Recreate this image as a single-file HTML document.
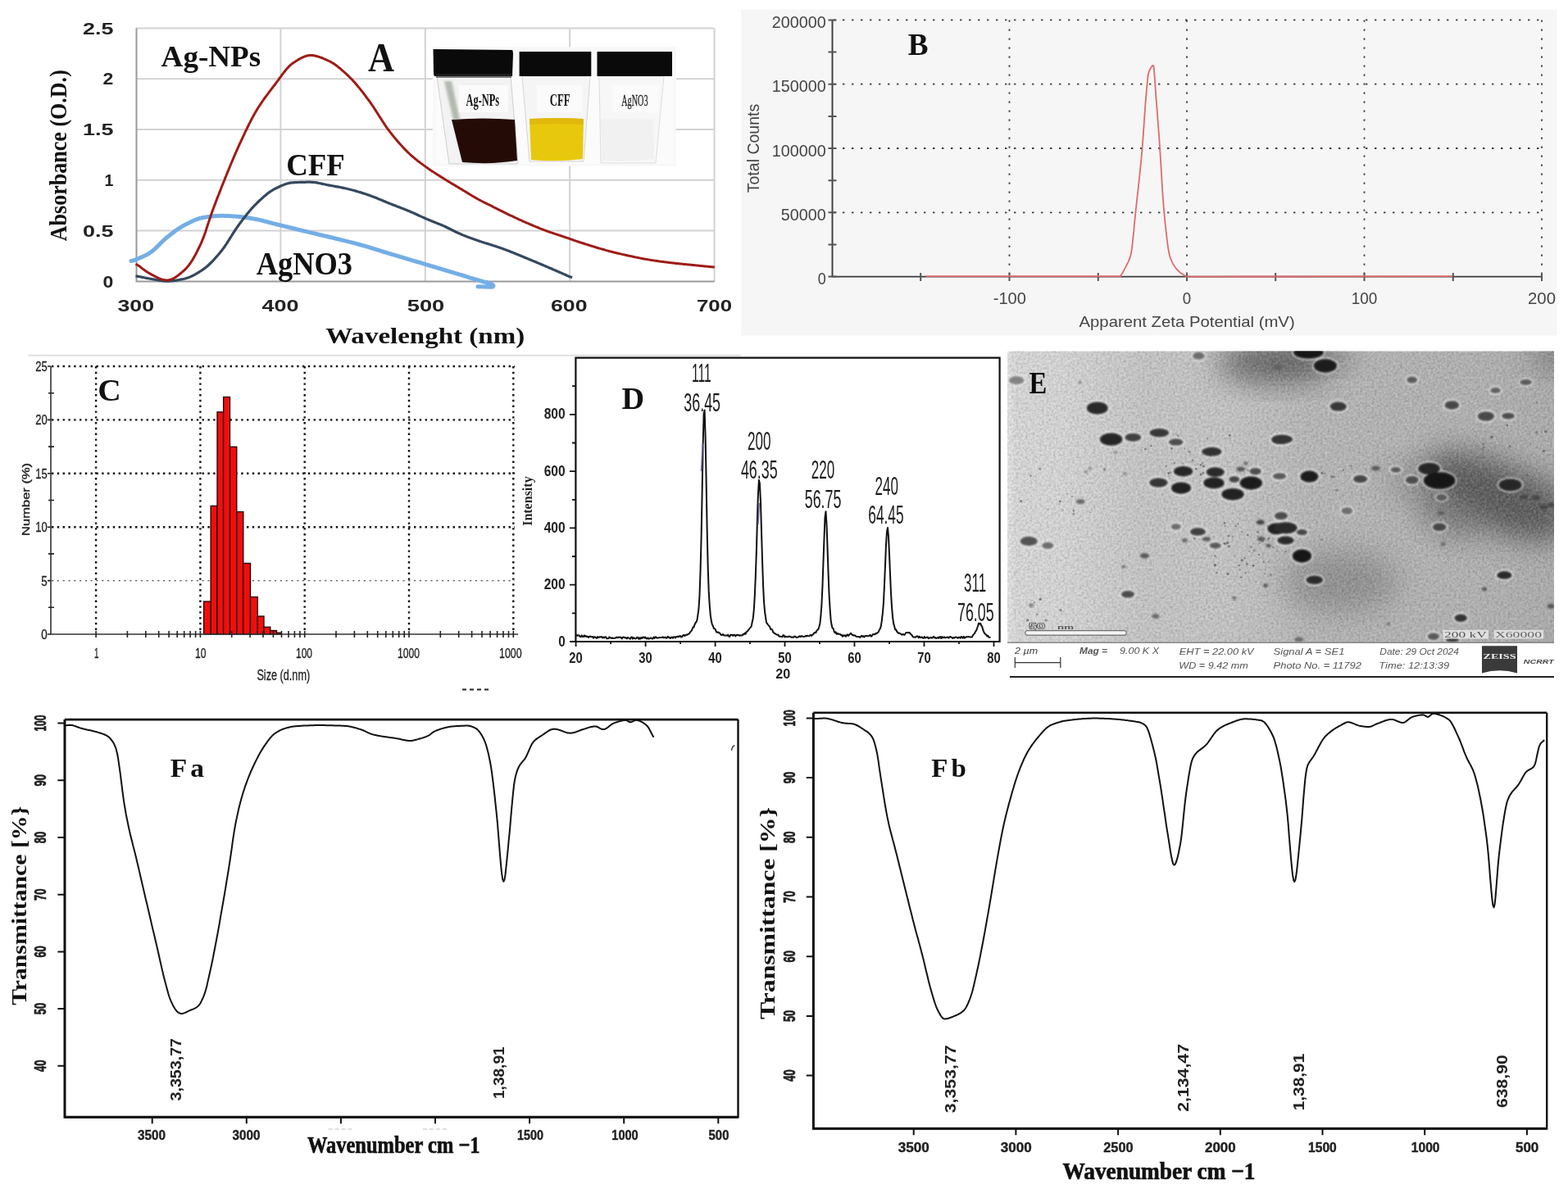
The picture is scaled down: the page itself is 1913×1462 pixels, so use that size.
<!DOCTYPE html>
<html><head><meta charset="utf-8"><title>Figure</title>
<style>html,body{margin:0;padding:0;background:#fff;}body{width:1913px;height:1462px;overflow:hidden;}svg{display:block;}</style>
</head><body>
<svg width="1913" height="1462" viewBox="0 0 1913 1462">
<rect width="1913" height="1462" fill="#fff"/>
<path d="M166,281.6H871.6 M166,219.8H871.6 M166,158.0H871.6 M166,96.2H871.6 M166,34.4H871.6 M342.4,34.4V343.4 M518.8,34.4V343.4 M695.2,34.4V343.4 M871.6,34.4V343.4" stroke="#d2d2d2" stroke-width="2" fill="none"/>
<path d="M166.5,34.4V343.4H871.6" stroke="#9a9a9a" stroke-width="2" fill="none"/>
<text x="101.0" y="41.6" font-size="20.0" font-family="'Liberation Sans', Arial, sans-serif" font-weight="bold" text-anchor="start" fill="#222" textLength="37.4" lengthAdjust="spacingAndGlyphs">2.5</text>
<text x="125.6" y="103.4" font-size="20.0" font-family="'Liberation Sans', Arial, sans-serif" font-weight="bold" text-anchor="start" fill="#222" textLength="12.8" lengthAdjust="spacingAndGlyphs">2</text>
<text x="101.0" y="165.2" font-size="20.0" font-family="'Liberation Sans', Arial, sans-serif" font-weight="bold" text-anchor="start" fill="#222" textLength="37.4" lengthAdjust="spacingAndGlyphs">1.5</text>
<text x="127.5" y="227.0" font-size="20.0" font-family="'Liberation Sans', Arial, sans-serif" font-weight="bold" text-anchor="start" fill="#222" textLength="10.9" lengthAdjust="spacingAndGlyphs">1</text>
<text x="101.0" y="288.8" font-size="20.0" font-family="'Liberation Sans', Arial, sans-serif" font-weight="bold" text-anchor="start" fill="#222" textLength="37.4" lengthAdjust="spacingAndGlyphs">0.5</text>
<text x="125.6" y="350.6" font-size="20.0" font-family="'Liberation Sans', Arial, sans-serif" font-weight="bold" text-anchor="start" fill="#222" textLength="12.8" lengthAdjust="spacingAndGlyphs">0</text>
<text x="143.5" y="380.0" font-size="20.0" font-family="'Liberation Sans', Arial, sans-serif" font-weight="bold" text-anchor="start" fill="#222" textLength="44.5" lengthAdjust="spacingAndGlyphs">300</text>
<text x="319.5" y="380.0" font-size="20.0" font-family="'Liberation Sans', Arial, sans-serif" font-weight="bold" text-anchor="start" fill="#222" textLength="45.0" lengthAdjust="spacingAndGlyphs">400</text>
<text x="496.8" y="380.0" font-size="20.0" font-family="'Liberation Sans', Arial, sans-serif" font-weight="bold" text-anchor="start" fill="#222" textLength="45.5" lengthAdjust="spacingAndGlyphs">500</text>
<text x="672.0" y="380.0" font-size="20.0" font-family="'Liberation Sans', Arial, sans-serif" font-weight="bold" text-anchor="start" fill="#222" textLength="44.5" lengthAdjust="spacingAndGlyphs">600</text>
<text x="850.0" y="380.0" font-size="20.0" font-family="'Liberation Sans', Arial, sans-serif" font-weight="bold" text-anchor="start" fill="#222" textLength="43.0" lengthAdjust="spacingAndGlyphs">700</text>
<text x="397.2" y="419.0" font-size="27.0" font-family="'Liberation Serif', 'Times New Roman', serif" font-weight="bold" text-anchor="start" fill="#111" textLength="243.0" lengthAdjust="spacingAndGlyphs">Wavelenght (nm)</text>
<text x="0.0" y="0.0" font-size="29.0" font-family="'Liberation Serif', 'Times New Roman', serif" font-weight="bold" text-anchor="middle" fill="#111" textLength="209.0" lengthAdjust="spacingAndGlyphs" transform="translate(81.0,189.7) rotate(-90)">Absorbance (O.D.)</text>
<defs><filter id="blurV" x="-50%" y="-50%" width="200%" height="200%"><feGaussianBlur stdDeviation="1.5"/></filter></defs>
<rect x="527.8" y="57.3" width="297" height="145.4" fill="#f8f8f8"/>
<rect x="532" y="92" width="290" height="108" fill="#fbfbfb"/>
<path d="M533,93 L548,200 L632,200 L623,93 Z" fill="#f3f3f3" stroke="#cfcfcf" stroke-width="1"/>
<path d="M637,93 L646,197 L712,197 L720,93 Z" fill="#f5f5f5" stroke="#d5d5d5" stroke-width="1"/>
<path d="M731,93 L733,199 L800,199 L810,93 Z" fill="#f7f7f7" stroke="#dedede" stroke-width="1"/>
<path d="M551,146 Q590,143 628,146 L631,196 Q600,201 564,198 Z" fill="#240b06"/>
<path d="M542,99 L551,99 L561,146 L553,146 Z" fill="#7d8a78" opacity="0.55" filter="url(#blurV)"/>
<path d="M646,145 Q680,143 712,145 L711,194 Q680,198 648,195 Z" fill="#e8c80c"/>
<path d="M646,145 Q680,143 712,145 L712,152 Q680,150 646,152 Z" fill="#d9a810" opacity="0.5"/>
<path d="M733,146 Q765,144 797,146 L798,194 Q765,198 735,196 Z" fill="#f1f1f1"/>
<rect x="560" y="104" width="60" height="33" fill="#fbfbfb"/>
<rect x="655" y="104" width="55" height="33" fill="#fbfbfb"/>
<rect x="748" y="104" width="55" height="33" fill="#fbfbfb"/>
<text x="568.6" y="129.0" font-size="20.0" font-family="'Liberation Serif', 'Times New Roman', serif" font-weight="bold" text-anchor="start" fill="#111" textLength="40.5" lengthAdjust="spacingAndGlyphs">Ag-NPs</text>
<text x="670.7" y="128.6" font-size="20.0" font-family="'Liberation Serif', 'Times New Roman', serif" font-weight="bold" text-anchor="start" fill="#111" textLength="25.0" lengthAdjust="spacingAndGlyphs">CFF</text>
<text x="758.2" y="128.5" font-size="19.0" font-family="'Liberation Serif', 'Times New Roman', serif" font-weight="normal" text-anchor="start" fill="#222" textLength="32.4" lengthAdjust="spacingAndGlyphs" stroke="#222" stroke-width="0.3">AgNO3</text>
<path d="M528.5,60 L625,61 Q626,62 626,66 L625,93 L530,93 Q529,92 529,88 Z" fill="#0a0a0a"/>
<path d="M633.6,63 L721.3,63 L721.3,93 L633.6,93 Z" fill="#0a0a0a"/>
<path d="M728.5,63 L820,63 L820,93 L728.5,93 Z" fill="#0a0a0a"/>
<rect x="532" y="90" width="92" height="5" fill="#2a2a2a" opacity="0.6"/>
<path d="M160.0,318.5 L161.0,318.3 L162.1,318.0 L163.1,317.7 L164.2,317.3 L165.2,316.9 L166.3,316.5 L167.3,316.1 L168.3,315.7 L169.4,315.2 L170.4,314.8 L171.5,314.4 L172.5,313.9 L173.6,313.5 L174.6,313.0 L175.6,312.5 L176.7,312.0 L177.7,311.5 L178.8,311.0 L179.8,310.4 L180.9,309.8 L181.9,309.2 L182.9,308.5 L184.0,307.8 L185.0,307.0 L186.1,306.2 L187.1,305.3 L188.2,304.4 L189.2,303.5 L190.2,302.5 L191.3,301.5 L192.3,300.5 L193.4,299.4 L194.4,298.4 L195.5,297.3 L196.5,296.3 L197.5,295.3 L198.6,294.3 L199.6,293.3 L200.7,292.3 L201.7,291.4 L202.8,290.5 L203.8,289.7 L204.8,288.8 L205.9,288.0 L206.9,287.1 L208.0,286.3 L209.0,285.5 L210.1,284.7 L211.1,283.9 L212.1,283.1 L213.2,282.4 L214.2,281.6 L215.3,280.8 L216.3,280.1 L217.4,279.4 L218.4,278.7 L219.4,278.0 L220.5,277.3 L221.5,276.7 L222.6,276.1 L223.6,275.5 L224.7,274.9 L225.7,274.3 L226.7,273.8 L227.8,273.2 L228.8,272.7 L229.9,272.2 L230.9,271.7 L232.0,271.2 L233.0,270.6 L234.0,270.2 L235.1,269.7 L236.1,269.2 L237.2,268.8 L238.2,268.3 L239.3,267.9 L240.3,267.5 L241.3,267.2 L242.4,266.8 L243.4,266.5 L244.5,266.2 L245.5,266.0 L246.6,265.7 L247.6,265.5 L248.6,265.4 L249.7,265.2 L250.7,265.0 L251.8,264.9 L252.8,264.7 L253.9,264.6 L254.9,264.4 L255.9,264.3 L257.0,264.2 L258.0,264.0 L259.1,263.9 L260.1,263.8 L261.2,263.7 L262.2,263.6 L263.2,263.6 L264.3,263.5 L265.3,263.4 L266.4,263.4 L267.4,263.4 L268.5,263.3 L269.5,263.3 L270.5,263.3 L271.6,263.3 L272.6,263.3 L273.7,263.4 L274.7,263.4 L275.8,263.4 L276.8,263.5 L277.8,263.5 L278.9,263.6 L279.9,263.6 L281.0,263.7 L282.0,263.7 L283.1,263.8 L284.1,263.9 L285.1,263.9 L286.2,264.0 L287.2,264.1 L288.3,264.2 L289.3,264.2 L290.4,264.3 L291.4,264.4 L292.4,264.5 L293.5,264.6 L294.5,264.7 L295.6,264.8 L296.6,264.9 L297.7,265.1 L298.7,265.2 L299.7,265.4 L300.8,265.5 L301.8,265.7 L302.9,265.8 L303.9,266.0 L305.0,266.2 L306.0,266.4 L307.0,266.5 L308.1,266.7 L309.1,266.9 L310.2,267.1 L311.2,267.3 L312.3,267.5 L313.3,267.7 L314.3,267.9 L315.4,268.1 L316.4,268.4 L317.5,268.6 L318.5,268.8 L319.6,269.1 L320.6,269.3 L321.6,269.6 L322.7,269.9 L323.7,270.2 L324.8,270.4 L325.8,270.7 L326.9,271.0 L327.9,271.3 L328.9,271.6 L330.0,271.8 L331.0,272.1 L332.1,272.4 L333.1,272.7 L334.2,272.9 L335.2,273.2 L336.2,273.5 L337.3,273.7 L338.3,274.0 L339.4,274.2 L340.4,274.5 L341.4,274.7 L342.5,275.0 L343.5,275.2 L344.5,275.5 L345.6,275.7 L346.6,276.0 L347.7,276.2 L348.7,276.5 L349.7,276.7 L350.8,277.0 L351.8,277.2 L352.8,277.5 L353.9,277.7 L354.9,278.0 L356.0,278.2 L357.0,278.5 L358.0,278.7 L359.0,279.0 L360.0,279.2 L361.0,279.5 L362.0,279.7 L363.0,280.0 L364.0,280.2 L365.0,280.5 L366.0,280.7 L367.0,280.9 L368.0,281.2 L369.0,281.4 L370.0,281.7 L371.0,281.9 L372.0,282.2 L373.0,282.4 L374.0,282.6 L375.0,282.9 L376.0,283.1 L377.0,283.4 L378.0,283.6 L379.0,283.9 L380.0,284.1 L381.0,284.3 L382.0,284.6 L383.0,284.8 L384.0,285.1 L385.0,285.3 L386.0,285.5 L387.0,285.8 L388.0,286.0 L389.0,286.2 L390.0,286.5 L391.0,286.7 L392.0,286.9 L393.0,287.2 L394.0,287.4 L395.0,287.6 L396.0,287.9 L397.0,288.1 L398.0,288.3 L399.0,288.6 L400.0,288.8 L401.0,289.0 L402.0,289.3 L403.0,289.5 L404.0,289.8 L405.0,290.0 L406.0,290.2 L407.0,290.5 L408.0,290.7 L409.0,291.0 L410.0,291.2 L411.0,291.4 L412.0,291.7 L413.0,291.9 L414.0,292.2 L415.0,292.4 L416.0,292.7 L417.0,292.9 L418.0,293.2 L419.0,293.4 L420.0,293.6 L421.0,293.9 L422.0,294.1 L423.0,294.4 L424.0,294.6 L425.0,294.9 L426.0,295.1 L427.0,295.4 L428.0,295.6 L429.0,295.9 L430.0,296.1 L431.0,296.4 L432.0,296.7 L433.0,296.9 L434.0,297.2 L435.0,297.5 L436.0,297.7 L437.0,298.0 L438.0,298.3 L439.0,298.5 L440.0,298.8 L441.0,299.1 L442.0,299.4 L443.0,299.7 L444.0,299.9 L445.0,300.2 L446.0,300.5 L447.0,300.8 L448.0,301.1 L449.0,301.4 L450.0,301.7 L451.0,302.0 L452.0,302.3 L453.0,302.6 L454.0,302.9 L455.0,303.3 L456.0,303.6 L457.0,303.9 L458.0,304.2 L459.0,304.5 L460.0,304.8 L461.0,305.1 L462.0,305.4 L463.0,305.7 L464.0,306.1 L465.0,306.4 L466.0,306.7 L467.0,307.0 L468.0,307.3 L469.0,307.6 L470.0,307.9 L471.0,308.2 L472.0,308.5 L473.0,308.8 L474.0,309.1 L475.0,309.4 L476.0,309.7 L477.0,310.0 L478.0,310.3 L479.0,310.6 L480.0,310.9 L481.0,311.2 L482.0,311.5 L483.0,311.8 L484.0,312.1 L485.0,312.4 L486.0,312.7 L487.0,313.0 L488.0,313.3 L489.0,313.6 L490.0,313.9 L491.0,314.2 L492.0,314.5 L493.0,314.8 L494.0,315.1 L495.0,315.4 L496.0,315.7 L497.0,316.0 L498.0,316.3 L499.0,316.6 L500.0,316.9 L501.0,317.2 L502.0,317.5 L503.0,317.8 L504.0,318.1 L505.0,318.4 L506.0,318.7 L507.0,319.0 L508.0,319.3 L509.0,319.5 L510.0,319.8 L511.0,320.1 L512.0,320.4 L513.0,320.7 L514.0,321.0 L515.0,321.3 L516.0,321.6 L517.0,321.9 L518.0,322.2 L519.0,322.5 L520.0,322.8 L521.0,323.1 L522.0,323.4 L523.0,323.7 L524.0,324.0 L525.0,324.3 L526.0,324.6 L527.0,324.9 L528.0,325.2 L529.0,325.5 L530.0,325.8 L531.0,326.1 L532.0,326.4 L533.0,326.7 L534.0,327.0 L535.0,327.3 L536.0,327.6 L537.0,327.9 L538.0,328.2 L539.0,328.5 L540.0,328.8 L541.0,329.1 L542.0,329.4 L543.0,329.7 L544.0,330.0 L545.0,330.3 L546.0,330.6 L547.0,330.9 L548.0,331.2 L549.0,331.5 L550.0,331.8 L551.0,332.1 L552.0,332.4 L553.0,332.7 L554.0,333.0 L555.0,333.3 L556.0,333.6 L557.0,333.9 L558.0,334.2 L559.0,334.5 L560.0,334.8 L561.0,335.1 L562.0,335.4 L563.0,335.7 L564.0,336.0 L565.0,336.3 L566.0,336.6 L567.0,336.9 L568.0,337.2 L569.0,337.6 L570.0,337.9 L571.0,338.2 L572.0,338.5 L573.0,338.8 L574.0,339.1 L575.0,339.4 L576.0,339.7 L577.0,340.0 L578.0,340.3 L579.0,340.6 L580.0,340.9 L581.0,341.2 L582.0,341.5 L583.0,341.8 L584.0,342.1 L585.0,342.4 L586.0,342.7 L587.0,343.0 L588.0,343.3 L589.0,343.5 L590.0,343.8 L591.0,344.1 L592.0,344.3 L593.0,344.5 L594.0,344.6" stroke="#74aee6" stroke-width="5" fill="none" stroke-linecap="round"/>
<path d="M593,344.8 Q605,347.5 601,350.2 L583,349.8" stroke="#74aee6" stroke-width="5" fill="none" stroke-linecap="round" stroke-linejoin="round"/>
<path d="M165.5,337.0 L166.5,337.1 L167.6,337.2 L168.6,337.4 L169.6,337.5 L170.6,337.7 L171.7,337.9 L172.7,338.1 L173.7,338.4 L174.7,338.6 L175.8,338.8 L176.8,339.0 L177.8,339.2 L178.8,339.4 L179.9,339.6 L180.9,339.8 L181.9,340.0 L182.9,340.1 L184.0,340.3 L185.0,340.5 L186.0,340.7 L187.1,340.9 L188.1,341.1 L189.2,341.3 L190.2,341.5 L191.3,341.7 L192.3,341.8 L193.4,342.0 L194.4,342.2 L195.4,342.4 L196.5,342.5 L197.5,342.7 L198.6,342.8 L199.6,342.9 L200.7,343.0 L201.7,343.1 L202.8,343.1 L203.8,343.1 L204.8,343.1 L205.9,343.1 L206.9,343.1 L208.0,343.0 L209.0,342.9 L210.1,342.8 L211.1,342.7 L212.1,342.6 L213.2,342.4 L214.2,342.3 L215.3,342.1 L216.3,341.9 L217.4,341.7 L218.4,341.5 L219.4,341.3 L220.5,341.1 L221.5,340.9 L222.6,340.7 L223.6,340.5 L224.7,340.2 L225.7,340.0 L226.7,339.7 L227.8,339.4 L228.8,339.1 L229.9,338.7 L230.9,338.3 L232.0,337.9 L233.0,337.4 L234.0,337.0 L235.1,336.5 L236.1,335.9 L237.2,335.4 L238.2,334.8 L239.3,334.2 L240.3,333.6 L241.3,333.0 L242.4,332.4 L243.4,331.7 L244.5,331.0 L245.5,330.4 L246.6,329.7 L247.6,328.9 L248.6,328.2 L249.7,327.4 L250.7,326.6 L251.8,325.8 L252.8,324.9 L253.9,324.0 L254.9,323.0 L255.9,322.0 L257.0,321.0 L258.0,320.0 L259.1,318.9 L260.1,317.8 L261.2,316.7 L262.2,315.5 L263.2,314.4 L264.3,313.2 L265.3,312.0 L266.4,310.8 L267.4,309.6 L268.5,308.3 L269.5,307.0 L270.5,305.7 L271.6,304.3 L272.6,302.9 L273.7,301.5 L274.7,299.9 L275.8,298.4 L276.8,296.8 L277.8,295.2 L278.9,293.5 L279.9,291.9 L281.0,290.2 L282.0,288.5 L283.1,286.9 L284.1,285.2 L285.1,283.6 L286.2,282.0 L287.2,280.4 L288.3,278.8 L289.3,277.3 L290.4,275.8 L291.4,274.4 L292.4,272.9 L293.5,271.5 L294.5,270.2 L295.6,268.8 L296.6,267.4 L297.7,266.1 L298.7,264.7 L299.7,263.4 L300.8,262.1 L301.8,260.8 L302.9,259.5 L303.9,258.3 L305.0,257.0 L306.0,255.8 L307.0,254.6 L308.1,253.5 L309.1,252.3 L310.2,251.2 L311.2,250.1 L312.3,249.1 L313.3,248.0 L314.3,247.0 L315.4,246.0 L316.4,245.0 L317.5,244.1 L318.5,243.1 L319.6,242.1 L320.6,241.2 L321.6,240.3 L322.7,239.3 L323.7,238.5 L324.8,237.6 L325.8,236.7 L326.9,235.9 L327.9,235.1 L328.9,234.4 L330.0,233.7 L331.0,233.0 L332.1,232.3 L333.1,231.7 L334.2,231.1 L335.2,230.5 L336.2,230.0 L337.3,229.5 L338.3,229.0 L339.4,228.5 L340.4,228.0 L341.4,227.5 L342.5,227.0 L343.5,226.6 L344.5,226.1 L345.6,225.7 L346.6,225.3 L347.7,224.9 L348.7,224.6 L349.7,224.2 L350.8,223.9 L351.8,223.7 L352.8,223.4 L353.9,223.2 L354.9,223.1 L356.0,222.9 L357.0,222.9 L358.0,222.8 L359.1,222.7 L360.1,222.7 L361.2,222.6 L362.2,222.6 L363.3,222.5 L364.3,222.5 L365.3,222.4 L366.4,222.4 L367.4,222.4 L368.5,222.4 L369.5,222.3 L370.6,222.3 L371.6,222.3 L372.6,222.3 L373.7,222.2 L374.7,222.2 L375.8,222.2 L376.8,222.2 L377.9,222.2 L378.9,222.2 L379.9,222.3 L381.0,222.3 L382.0,222.4 L383.0,222.5 L384.0,222.6 L385.1,222.7 L386.1,222.9 L387.1,223.1 L388.2,223.3 L389.2,223.5 L390.2,223.7 L391.2,223.9 L392.3,224.1 L393.3,224.4 L394.3,224.6 L395.4,224.8 L396.4,225.0 L397.4,225.3 L398.4,225.5 L399.5,225.7 L400.5,225.9 L401.5,226.1 L402.6,226.3 L403.6,226.5 L404.6,226.6 L405.6,226.8 L406.6,227.0 L407.7,227.2 L408.7,227.4 L409.7,227.6 L410.8,227.8 L411.8,227.9 L412.8,228.1 L413.8,228.3 L414.9,228.5 L415.9,228.7 L416.9,228.9 L417.9,229.1 L419.0,229.4 L420.0,229.6 L421.0,229.8 L422.0,230.0 L423.1,230.2 L424.1,230.5 L425.1,230.7 L426.1,231.0 L427.1,231.2 L428.1,231.5 L429.1,231.7 L430.1,232.0 L431.1,232.2 L432.1,232.5 L433.1,232.8 L434.1,233.1 L435.1,233.4 L436.1,233.7 L437.1,234.0 L438.2,234.3 L439.2,234.6 L440.2,234.9 L441.2,235.2 L442.2,235.5 L443.2,235.9 L444.2,236.2 L445.2,236.5 L446.2,236.8 L447.2,237.2 L448.2,237.5 L449.2,237.9 L450.2,238.2 L451.2,238.6 L452.2,238.9 L453.2,239.3 L454.2,239.7 L455.2,240.0 L456.2,240.4 L457.2,240.8 L458.2,241.2 L459.2,241.6 L460.2,242.0 L461.2,242.5 L462.2,242.9 L463.3,243.3 L464.3,243.7 L465.3,244.1 L466.3,244.6 L467.3,245.0 L468.3,245.4 L469.3,245.8 L470.3,246.2 L471.3,246.7 L472.3,247.1 L473.3,247.5 L474.3,247.9 L475.3,248.3 L476.3,248.7 L477.4,249.1 L478.4,249.5 L479.4,249.9 L480.4,250.3 L481.5,250.7 L482.5,251.1 L483.5,251.5 L484.6,251.9 L485.6,252.3 L486.6,252.7 L487.6,253.1 L488.7,253.5 L489.7,253.9 L490.7,254.3 L491.8,254.7 L492.8,255.1 L493.8,255.5 L494.9,255.9 L495.9,256.3 L496.9,256.7 L497.9,257.2 L499.0,257.6 L500.0,258.0 L501.0,258.5 L502.1,258.9 L503.1,259.4 L504.2,259.8 L505.2,260.3 L506.3,260.8 L507.3,261.2 L508.4,261.7 L509.4,262.2 L510.4,262.7 L511.5,263.2 L512.5,263.6 L513.6,264.1 L514.6,264.6 L515.7,265.1 L516.7,265.5 L517.8,266.0 L518.8,266.5 L519.9,266.9 L520.9,267.4 L521.9,267.8 L523.0,268.3 L524.0,268.7 L525.0,269.1 L526.0,269.5 L527.1,269.9 L528.1,270.3 L529.1,270.8 L530.2,271.2 L531.2,271.6 L532.2,272.0 L533.3,272.4 L534.3,272.8 L535.3,273.2 L536.4,273.6 L537.4,274.1 L538.4,274.5 L539.4,274.9 L540.5,275.4 L541.5,275.8 L542.5,276.3 L543.5,276.7 L544.5,277.2 L545.5,277.7 L546.5,278.2 L547.6,278.7 L548.6,279.2 L549.6,279.7 L550.6,280.2 L551.6,280.7 L552.6,281.2 L553.6,281.7 L554.6,282.2 L555.6,282.7 L556.6,283.2 L557.7,283.7 L558.7,284.2 L559.7,284.6 L560.7,285.1 L561.7,285.5 L562.7,286.0 L563.7,286.4 L564.8,286.9 L565.8,287.3 L566.9,287.7 L567.9,288.1 L569.0,288.5 L570.0,288.9 L571.1,289.3 L572.1,289.7 L573.2,290.1 L574.2,290.5 L575.2,290.8 L576.3,291.2 L577.3,291.6 L578.4,292.0 L579.4,292.3 L580.5,292.7 L581.5,293.1 L582.6,293.4 L583.6,293.8 L584.6,294.1 L585.6,294.5 L586.7,294.8 L587.7,295.2 L588.7,295.5 L589.7,295.8 L590.7,296.2 L591.7,296.5 L592.8,296.8 L593.8,297.1 L594.8,297.4 L595.8,297.7 L596.8,298.1 L597.9,298.4 L598.9,298.7 L599.9,299.0 L600.9,299.3 L601.9,299.7 L603.0,300.0 L604.0,300.3 L605.0,300.6 L606.0,301.0 L607.0,301.3 L608.0,301.7 L609.1,302.0 L610.1,302.4 L611.1,302.7 L612.1,303.1 L613.1,303.4 L614.2,303.8 L615.2,304.2 L616.2,304.6 L617.2,304.9 L618.2,305.3 L619.2,305.7 L620.3,306.1 L621.3,306.5 L622.3,306.9 L623.3,307.3 L624.3,307.7 L625.3,308.1 L626.4,308.5 L627.4,308.9 L628.4,309.3 L629.4,309.8 L630.4,310.2 L631.4,310.6 L632.5,311.0 L633.5,311.4 L634.5,311.8 L635.5,312.3 L636.5,312.7 L637.5,313.1 L638.6,313.5 L639.6,314.0 L640.6,314.4 L641.6,314.8 L642.6,315.2 L643.6,315.6 L644.7,316.1 L645.7,316.5 L646.7,316.9 L647.7,317.3 L648.7,317.7 L649.7,318.2 L650.8,318.6 L651.8,319.0 L652.8,319.4 L653.8,319.8 L654.8,320.3 L655.8,320.7 L656.8,321.1 L657.9,321.6 L658.9,322.0 L659.9,322.4 L660.9,322.8 L661.9,323.3 L662.9,323.7 L663.9,324.1 L665.0,324.6 L666.0,325.0 L667.0,325.4 L668.0,325.9 L669.0,326.3 L670.0,326.7 L671.0,327.2 L672.1,327.6 L673.1,328.0 L674.1,328.5 L675.1,328.9 L676.1,329.4 L677.1,329.8 L678.1,330.2 L679.2,330.7 L680.2,331.1 L681.2,331.6 L682.2,332.0 L683.2,332.4 L684.2,332.9 L685.2,333.3 L686.2,333.8 L687.2,334.2 L688.2,334.6 L689.2,335.1 L690.2,335.5 L691.2,336.0 L692.2,336.4 L693.2,336.9 L694.2,337.3 L695.2,337.7 L696.2,338.0 L697.2,338.3 L698.2,338.5" stroke="#34495e" stroke-width="3.2" fill="none"/>
<path d="M165.5,322.4 L166.5,322.8 L167.6,323.3 L168.6,323.9 L169.6,324.6 L170.6,325.3 L171.7,326.1 L172.7,327.0 L173.7,327.8 L174.7,328.6 L175.8,329.3 L176.8,330.1 L177.8,330.8 L178.8,331.5 L179.8,332.1 L180.9,332.8 L181.9,333.4 L182.9,333.9 L184.0,334.5 L185.0,335.1 L186.1,335.7 L187.1,336.2 L188.2,336.8 L189.2,337.3 L190.2,337.9 L191.3,338.4 L192.3,338.9 L193.4,339.4 L194.4,339.8 L195.5,340.2 L196.5,340.6 L197.5,340.9 L198.6,341.2 L199.6,341.5 L200.7,341.7 L201.7,341.8 L202.8,341.9 L203.8,341.9 L204.8,341.9 L205.9,341.8 L206.9,341.5 L208.0,341.3 L209.0,340.9 L210.1,340.5 L211.1,340.0 L212.1,339.5 L213.2,338.9 L214.2,338.2 L215.3,337.5 L216.3,336.8 L217.4,336.0 L218.4,335.2 L219.4,334.4 L220.5,333.5 L221.5,332.6 L222.6,331.7 L223.6,330.8 L224.7,329.9 L225.7,328.9 L226.7,327.9 L227.8,326.8 L228.8,325.6 L229.9,324.3 L230.9,323.0 L232.0,321.5 L233.0,320.0 L234.0,318.4 L235.1,316.7 L236.1,314.9 L237.2,313.1 L238.2,311.2 L239.3,309.3 L240.3,307.2 L241.3,305.2 L242.4,303.0 L243.4,300.9 L244.5,298.6 L245.5,296.3 L246.6,293.9 L247.6,291.3 L248.7,288.5 L249.8,285.6 L250.9,282.4 L251.9,279.1 L253.0,275.7 L254.1,272.4 L255.2,269.1 L256.3,265.9 L257.3,262.9 L258.3,260.0 L259.3,257.1 L260.4,254.3 L261.4,251.6 L262.4,248.9 L263.4,246.2 L264.4,243.6 L265.4,240.9 L266.5,238.3 L267.5,235.7 L268.5,233.1 L269.5,230.5 L270.5,227.8 L271.6,225.2 L272.6,222.6 L273.7,220.0 L274.7,217.4 L275.8,214.8 L276.8,212.2 L277.8,209.6 L278.9,207.1 L279.9,204.5 L281.0,202.0 L282.0,199.5 L283.1,197.0 L284.1,194.6 L285.1,192.1 L286.2,189.7 L287.2,187.3 L288.3,184.9 L289.3,182.6 L290.4,180.2 L291.4,177.9 L292.4,175.6 L293.5,173.4 L294.5,171.1 L295.6,168.9 L296.6,166.6 L297.7,164.4 L298.7,162.2 L299.7,160.0 L300.8,157.8 L301.8,155.7 L302.9,153.5 L303.9,151.4 L305.0,149.4 L306.0,147.3 L307.0,145.3 L308.1,143.4 L309.1,141.4 L310.2,139.6 L311.2,137.7 L312.3,135.9 L313.3,134.2 L314.3,132.5 L315.4,130.8 L316.4,129.2 L317.5,127.6 L318.5,126.0 L319.6,124.5 L320.6,123.0 L321.6,121.5 L322.7,120.0 L323.7,118.6 L324.8,117.2 L325.8,115.8 L326.9,114.4 L327.9,113.0 L328.9,111.6 L330.0,110.3 L331.0,108.9 L332.1,107.5 L333.1,106.2 L334.2,104.8 L335.2,103.5 L336.2,102.1 L337.3,100.7 L338.3,99.3 L339.4,97.9 L340.4,96.4 L341.4,95.0 L342.5,93.6 L343.5,92.1 L344.5,90.7 L345.6,89.4 L346.6,88.0 L347.7,86.7 L348.7,85.4 L349.7,84.2 L350.8,83.0 L351.8,81.9 L352.8,80.8 L353.9,79.8 L354.9,78.9 L356.0,78.1 L357.0,77.3 L358.0,76.6 L359.1,75.9 L360.1,75.2 L361.2,74.5 L362.2,73.9 L363.3,73.2 L364.3,72.6 L365.3,72.0 L366.4,71.4 L367.4,70.8 L368.5,70.3 L369.5,69.8 L370.6,69.4 L371.6,69.0 L372.6,68.6 L373.7,68.3 L374.7,68.0 L375.8,67.8 L376.8,67.7 L377.9,67.6 L378.9,67.5 L379.9,67.5 L381.0,67.6 L382.0,67.7 L383.0,67.8 L384.0,68.0 L385.1,68.2 L386.1,68.5 L387.1,68.8 L388.2,69.1 L389.2,69.4 L390.2,69.8 L391.2,70.1 L392.3,70.5 L393.3,70.9 L394.3,71.4 L395.4,71.8 L396.4,72.2 L397.4,72.7 L398.4,73.1 L399.5,73.6 L400.5,74.0 L401.5,74.5 L402.6,75.0 L403.6,75.6 L404.6,76.2 L405.6,76.8 L406.6,77.4 L407.7,78.1 L408.7,78.8 L409.7,79.5 L410.8,80.3 L411.8,81.1 L412.8,81.9 L413.8,82.7 L414.9,83.5 L415.9,84.4 L416.9,85.3 L417.9,86.2 L419.0,87.1 L420.0,88.0 L421.0,88.9 L422.0,89.9 L423.1,90.8 L424.1,91.8 L425.1,92.7 L426.1,93.7 L427.1,94.7 L428.1,95.7 L429.1,96.7 L430.1,97.8 L431.1,98.9 L432.1,100.0 L433.1,101.1 L434.1,102.3 L435.1,103.5 L436.1,104.7 L437.1,105.9 L438.2,107.1 L439.2,108.4 L440.2,109.7 L441.2,110.9 L442.2,112.2 L443.2,113.5 L444.2,114.8 L445.2,116.2 L446.2,117.5 L447.2,118.8 L448.2,120.1 L449.2,121.5 L450.2,122.8 L451.2,124.2 L452.2,125.6 L453.2,127.1 L454.2,128.5 L455.2,130.0 L456.2,131.5 L457.2,133.1 L458.2,134.6 L459.2,136.2 L460.2,137.8 L461.2,139.4 L462.2,141.0 L463.3,142.6 L464.3,144.1 L465.3,145.7 L466.3,147.3 L467.3,148.8 L468.3,150.4 L469.3,151.9 L470.3,153.4 L471.3,154.8 L472.3,156.3 L473.3,157.7 L474.3,159.0 L475.3,160.3 L476.3,161.6 L477.3,162.9 L478.3,164.2 L479.3,165.4 L480.3,166.7 L481.3,167.9 L482.3,169.1 L483.3,170.3 L484.3,171.5 L485.3,172.7 L486.3,173.8 L487.3,175.0 L488.4,176.1 L489.4,177.2 L490.4,178.3 L491.4,179.4 L492.4,180.5 L493.4,181.6 L494.4,182.6 L495.4,183.6 L496.4,184.6 L497.4,185.6 L498.4,186.6 L499.4,187.5 L500.4,188.5 L501.4,189.4 L502.4,190.3 L503.5,191.2 L504.5,192.1 L505.5,192.9 L506.5,193.8 L507.6,194.6 L508.6,195.4 L509.6,196.3 L510.6,197.1 L511.7,197.8 L512.7,198.6 L513.7,199.4 L514.8,200.1 L515.8,200.9 L516.8,201.6 L517.8,202.4 L518.9,203.1 L519.9,203.9 L520.9,204.6 L521.9,205.3 L523.0,206.1 L524.0,206.8 L525.1,207.5 L526.1,208.2 L527.2,208.9 L528.2,209.6 L529.3,210.3 L530.3,210.9 L531.3,211.6 L532.4,212.3 L533.4,213.0 L534.5,213.6 L535.5,214.3 L536.6,214.9 L537.6,215.6 L538.7,216.2 L539.7,216.9 L540.8,217.5 L541.8,218.2 L542.8,218.8 L543.9,219.5 L544.9,220.1 L546.0,220.8 L547.0,221.4 L548.1,222.0 L549.1,222.7 L550.2,223.3 L551.2,223.9 L552.2,224.6 L553.3,225.2 L554.3,225.8 L555.4,226.4 L556.4,227.1 L557.5,227.7 L558.5,228.3 L559.6,228.9 L560.6,229.6 L561.7,230.2 L562.7,230.8 L563.7,231.4 L564.8,232.1 L565.8,232.7 L566.9,233.3 L567.9,234.0 L569.0,234.6 L570.0,235.3 L571.1,235.9 L572.1,236.5 L573.2,237.2 L574.2,237.8 L575.2,238.5 L576.3,239.1 L577.3,239.7 L578.4,240.3 L579.4,240.9 L580.5,241.5 L581.5,242.1 L582.6,242.7 L583.6,243.3 L584.6,243.8 L585.7,244.4 L586.7,245.0 L587.8,245.5 L588.8,246.0 L589.9,246.6 L590.9,247.1 L592.0,247.6 L593.0,248.2 L594.0,248.7 L595.1,249.2 L596.1,249.7 L597.2,250.2 L598.2,250.7 L599.3,251.2 L600.3,251.7 L601.4,252.3 L602.4,252.8 L603.5,253.3 L604.5,253.8 L605.5,254.3 L606.5,254.8 L607.5,255.3 L608.5,255.8 L609.5,256.3 L610.5,256.8 L611.5,257.3 L612.5,257.8 L613.5,258.3 L614.5,258.8 L615.5,259.3 L616.5,259.8 L617.5,260.3 L618.5,260.8 L619.5,261.3 L620.5,261.8 L621.5,262.3 L622.5,262.8 L623.5,263.2 L624.5,263.7 L625.5,264.2 L626.5,264.7 L627.6,265.2 L628.6,265.7 L629.7,266.2 L630.7,266.6 L631.8,267.1 L632.8,267.6 L633.9,268.1 L634.9,268.5 L636.0,269.0 L637.0,269.5 L638.0,270.0 L639.1,270.4 L640.1,270.9 L641.2,271.3 L642.2,271.8 L643.3,272.2 L644.3,272.7 L645.4,273.1 L646.4,273.6 L647.4,274.0 L648.5,274.5 L649.5,274.9 L650.6,275.4 L651.6,275.8 L652.7,276.2 L653.7,276.7 L654.8,277.1 L655.8,277.5 L656.8,277.9 L657.9,278.4 L658.9,278.8 L660.0,279.2 L661.0,279.6 L662.1,280.0 L663.1,280.4 L664.2,280.8 L665.2,281.2 L666.3,281.6 L667.3,282.0 L668.3,282.4 L669.4,282.7 L670.4,283.1 L671.5,283.5 L672.5,283.8 L673.6,284.2 L674.6,284.5 L675.7,284.9 L676.7,285.2 L677.8,285.6 L678.8,285.9 L679.8,286.2 L680.9,286.6 L681.9,286.9 L683.0,287.3 L684.0,287.6 L685.1,288.0 L686.1,288.3 L687.2,288.7 L688.2,289.0 L689.2,289.4 L690.3,289.7 L691.3,290.1 L692.4,290.4 L693.4,290.8 L694.4,291.2 L695.5,291.5 L696.5,291.9 L697.5,292.3 L698.6,292.6 L699.6,293.0 L700.7,293.4 L701.7,293.7 L702.7,294.1 L703.8,294.4 L704.8,294.8 L705.8,295.1 L706.9,295.5 L707.9,295.8 L709.0,296.2 L710.0,296.5 L711.0,296.8 L712.0,297.1 L713.0,297.5 L714.0,297.8 L715.0,298.1 L716.0,298.4 L717.1,298.7 L718.1,299.0 L719.1,299.4 L720.1,299.7 L721.1,300.0 L722.1,300.3 L723.1,300.6 L724.1,300.9 L725.1,301.2 L726.1,301.5 L727.1,301.9 L728.1,302.2 L729.1,302.5 L730.1,302.8 L731.2,303.1 L732.2,303.4 L733.2,303.6 L734.2,303.9 L735.2,304.2 L736.2,304.5 L737.2,304.8 L738.2,305.1 L739.2,305.4 L740.2,305.6 L741.2,305.9 L742.2,306.2 L743.2,306.5 L744.2,306.7 L745.3,307.0 L746.3,307.2 L747.3,307.5 L748.3,307.8 L749.3,308.0 L750.3,308.3 L751.3,308.5 L752.3,308.7 L753.3,309.0 L754.3,309.2 L755.3,309.4 L756.3,309.7 L757.3,309.9 L758.3,310.1 L759.3,310.4 L760.3,310.6 L761.3,310.8 L762.3,311.1 L763.3,311.3 L764.4,311.5 L765.4,311.7 L766.4,312.0 L767.4,312.2 L768.4,312.4 L769.4,312.6 L770.4,312.8 L771.4,313.0 L772.4,313.3 L773.4,313.5 L774.4,313.7 L775.4,313.9 L776.4,314.1 L777.4,314.3 L778.4,314.5 L779.4,314.7 L780.4,314.9 L781.4,315.1 L782.4,315.3 L783.4,315.5 L784.4,315.7 L785.4,315.9 L786.4,316.0 L787.4,316.2 L788.4,316.4 L789.5,316.6 L790.5,316.7 L791.5,316.9 L792.5,317.1 L793.5,317.3 L794.5,317.4 L795.5,317.6 L796.5,317.7 L797.5,317.9 L798.5,318.1 L799.5,318.2 L800.5,318.3 L801.5,318.5 L802.5,318.6 L803.5,318.8 L804.5,318.9 L805.5,319.1 L806.5,319.2 L807.5,319.3 L808.5,319.5 L809.5,319.6 L810.5,319.7 L811.5,319.8 L812.5,320.0 L813.6,320.1 L814.6,320.2 L815.6,320.3 L816.6,320.4 L817.6,320.6 L818.6,320.7 L819.6,320.8 L820.6,320.9 L821.6,321.0 L822.6,321.1 L823.6,321.2 L824.6,321.4 L825.6,321.5 L826.6,321.6 L827.6,321.7 L828.6,321.8 L829.6,321.9 L830.6,322.0 L831.6,322.1 L832.6,322.2 L833.6,322.3 L834.6,322.4 L835.6,322.5 L836.6,322.6 L837.7,322.7 L838.7,322.8 L839.7,322.9 L840.7,323.0 L841.7,323.1 L842.7,323.2 L843.7,323.3 L844.7,323.4 L845.7,323.5 L846.7,323.6 L847.7,323.7 L848.7,323.8 L849.7,323.9 L850.7,324.0 L851.7,324.1 L852.7,324.2 L853.7,324.3 L854.7,324.4 L855.7,324.5 L856.7,324.6 L857.7,324.7 L858.7,324.8 L859.7,324.9 L860.8,325.0 L861.8,325.1 L862.8,325.2 L863.8,325.3 L864.8,325.4 L865.8,325.5 L866.8,325.6 L867.8,325.7 L868.8,325.8 L869.8,325.8 L870.8,325.9 L871.8,326.0" stroke="#9e1b16" stroke-width="3" fill="none"/>
<text x="196.6" y="80.5" font-size="36.0" font-family="'Liberation Serif', 'Times New Roman', serif" font-weight="bold" text-anchor="start" fill="#111" textLength="121.6" lengthAdjust="spacingAndGlyphs">Ag-NPs</text>
<text x="449.0" y="87.1" font-size="50.0" font-family="'Liberation Serif', 'Times New Roman', serif" font-weight="bold" text-anchor="start" fill="#111" textLength="32.0" lengthAdjust="spacingAndGlyphs">A</text>
<text x="349.2" y="214.0" font-size="38.0" font-family="'Liberation Serif', 'Times New Roman', serif" font-weight="bold" text-anchor="start" fill="#111" textLength="71.6" lengthAdjust="spacingAndGlyphs">CFF</text>
<text x="312.8" y="335.2" font-size="39.5" font-family="'Liberation Serif', 'Times New Roman', serif" font-weight="bold" text-anchor="start" fill="#111" textLength="117.2" lengthAdjust="spacingAndGlyphs">AgNO3</text>
<rect x="904.3" y="11.5" width="995.2" height="398" fill="#f6f6f6"/>
<path d="M1017,259.3H1881 M1017,181.0H1881 M1017,102.7H1881 M1017,24.4H1881 M1231.5,24.4V336 M1448.0,24.4V336 M1664.5,24.4V336 M1881.0,24.4V336" stroke="#3a3a3a" stroke-width="1.8" stroke-dasharray="2.4,8.6" fill="none"/>
<path d="M1015.5,24.4V337.6H1881.4" stroke="#3a3a3a" stroke-width="1.9" fill="none"/>
<path d="M1010.5,337.6H1020.5 M1010.5,298.5H1020.5 M1010.5,259.3H1020.5 M1010.5,220.2H1020.5 M1010.5,181.0H1020.5 M1010.5,141.9H1020.5 M1010.5,102.7H1020.5 M1010.5,63.6H1020.5 M1010.5,24.4H1020.5 M1123.2,333V343 M1231.5,333V343 M1339.8,333V343 M1448.0,333V343 M1556.2,333V343 M1664.5,333V343 M1772.8,333V343 M1881.0,333V343" stroke="#555" stroke-width="2" fill="none"/>
<text x="1007.7" y="34.0" font-size="21.0" font-family="'Liberation Sans', Arial, sans-serif" font-weight="normal" text-anchor="end" fill="#444" textLength="66.0" lengthAdjust="spacingAndGlyphs">200000</text>
<text x="1007.7" y="112.3" font-size="21.0" font-family="'Liberation Sans', Arial, sans-serif" font-weight="normal" text-anchor="end" fill="#444" textLength="66.0" lengthAdjust="spacingAndGlyphs">150000</text>
<text x="1007.7" y="190.6" font-size="21.0" font-family="'Liberation Sans', Arial, sans-serif" font-weight="normal" text-anchor="end" fill="#444" textLength="66.0" lengthAdjust="spacingAndGlyphs">100000</text>
<text x="1007.7" y="268.9" font-size="21.0" font-family="'Liberation Sans', Arial, sans-serif" font-weight="normal" text-anchor="end" fill="#444" textLength="55.0" lengthAdjust="spacingAndGlyphs">50000</text>
<text x="1007.7" y="347.2" font-size="21.0" font-family="'Liberation Sans', Arial, sans-serif" font-weight="normal" text-anchor="end" fill="#444" textLength="10.0" lengthAdjust="spacingAndGlyphs">0</text>
<text x="1211.7" y="370.5" font-size="21.0" font-family="'Liberation Sans', Arial, sans-serif" font-weight="normal" text-anchor="start" fill="#444" textLength="40.2" lengthAdjust="spacingAndGlyphs">-100</text>
<text x="1442.8" y="370.5" font-size="21.0" font-family="'Liberation Sans', Arial, sans-serif" font-weight="normal" text-anchor="start" fill="#444" textLength="10.4" lengthAdjust="spacingAndGlyphs">0</text>
<text x="1648.7" y="370.5" font-size="21.0" font-family="'Liberation Sans', Arial, sans-serif" font-weight="normal" text-anchor="start" fill="#444" textLength="31.6" lengthAdjust="spacingAndGlyphs">100</text>
<clipPath id="clipB"><rect x="904" y="11" width="995.5" height="399"/></clipPath>
<text x="1864.0" y="370.5" font-size="21.0" font-family="'Liberation Sans', Arial, sans-serif" font-weight="normal" text-anchor="start" fill="#444" textLength="34.0" lengthAdjust="spacingAndGlyphs" clip-path="url(#clipB)">200</text>
<text x="1316.5" y="399.0" font-size="19.0" font-family="'Liberation Sans', Arial, sans-serif" font-weight="normal" text-anchor="start" fill="#444" textLength="263.2" lengthAdjust="spacingAndGlyphs">Apparent Zeta Potential (mV)</text>
<text x="0.0" y="0.0" font-size="21.0" font-family="'Liberation Sans', Arial, sans-serif" font-weight="normal" text-anchor="middle" fill="#444" textLength="108.5" lengthAdjust="spacingAndGlyphs" transform="translate(926.0,181.0) rotate(-90)">Total Counts</text>
<text x="1107.8" y="67.3" font-size="37.0" font-family="'Liberation Serif', 'Times New Roman', serif" font-weight="bold" text-anchor="start" fill="#111" textLength="24.8" lengthAdjust="spacingAndGlyphs">B</text>
<path d="M1130,337.2H1367 L1366.8,337.6 L1367.3,336.7 L1367.8,335.8 L1368.3,334.9 L1368.9,334.0 L1369.4,333.1 L1369.9,332.3 L1370.4,331.4 L1370.9,330.5 L1371.4,329.6 L1371.9,328.6 L1372.5,327.7 L1373.0,326.7 L1373.5,325.7 L1374.0,324.6 L1374.5,323.5 L1375.0,322.5 L1375.6,321.5 L1376.1,320.4 L1376.6,319.3 L1377.1,318.1 L1377.6,316.9 L1378.1,315.5 L1378.7,313.9 L1379.2,312.2 L1379.7,310.3 L1380.2,307.8 L1380.8,304.5 L1381.3,300.5 L1381.8,295.9 L1382.3,290.9 L1382.9,285.6 L1383.4,280.1 L1383.9,274.5 L1384.4,268.9 L1385.0,263.6 L1385.5,258.5 L1386.0,253.9 L1386.5,249.4 L1387.0,244.8 L1387.5,240.4 L1388.0,235.9 L1388.5,231.3 L1389.0,226.8 L1389.5,222.2 L1390.0,217.5 L1390.5,212.8 L1391.0,207.9 L1391.5,202.9 L1392.0,197.8 L1392.5,192.5 L1393.0,187.1 L1393.5,181.5 L1394.0,174.9 L1394.6,167.6 L1395.1,159.8 L1395.7,151.7 L1396.2,143.6 L1396.8,135.7 L1397.3,128.1 L1397.9,121.1 L1398.4,114.9 L1399.0,108.5 L1399.6,102.2 L1400.1,96.4 L1400.7,91.8 L1401.3,89.0 L1401.8,87.5 L1402.3,86.2 L1402.9,84.9 L1403.4,83.8 L1403.9,82.8 L1404.4,81.9 L1404.9,81.2 L1405.4,80.7 L1406.0,80.2 L1406.5,80.0 L1407.0,79.9 L1407.5,81.4 L1408.0,85.4 L1408.5,91.2 L1409.0,98.2 L1409.5,105.8 L1410.0,113.3 L1410.5,120.0 L1411.0,126.2 L1411.5,132.4 L1412.0,138.8 L1412.5,145.3 L1413.0,151.9 L1413.5,158.6 L1414.0,165.5 L1414.5,172.4 L1415.0,180.0 L1415.5,188.0 L1416.1,196.5 L1416.6,205.1 L1417.1,213.8 L1417.6,222.5 L1418.1,230.8 L1418.6,238.8 L1419.2,246.1 L1419.7,252.8 L1420.2,258.6 L1420.7,263.8 L1421.2,269.0 L1421.7,274.0 L1422.3,278.9 L1422.8,283.7 L1423.3,288.2 L1423.8,292.5 L1424.3,296.5 L1424.8,300.2 L1425.3,303.6 L1425.9,306.7 L1426.4,309.3 L1426.9,311.5 L1427.4,313.2 L1427.9,314.6 L1428.4,316.0 L1428.9,317.2 L1429.4,318.4 L1429.9,319.5 L1430.4,320.6 L1430.9,321.6 L1431.4,322.5 L1431.9,323.4 L1432.5,324.2 L1433.0,325.0 L1433.5,325.8 L1434.0,326.5 L1434.5,327.1 L1435.0,327.7 L1435.5,328.3 L1436.0,328.9 L1436.5,329.5 L1437.0,330.0 L1437.5,330.5 L1438.0,331.0 L1438.5,331.4 L1439.0,331.9 L1439.5,332.3 L1440.0,332.7 L1440.5,333.1 L1441.0,333.4 L1441.5,333.8 L1442.0,334.1 L1442.5,334.4 L1443.0,334.7 L1443.5,335.0 L1444.0,335.3 L1444.5,335.7 L1445.0,336.0 L1445.5,336.3 L1446.0,336.6 L1446.5,336.9 L1447.0,337.3 L1447.5,337.6 L1772,337.2" stroke="#e06a6a" stroke-width="1.8" fill="none" stroke-linejoin="round"/>
<path d="M34.5,433.8H904" stroke="#e0e0e0" stroke-width="2"/>
<path d="M63,447.0H628 M63,512.4H628 M63,577.8H628 M63,643.2H628 M117.1,447V772 M244.4,447V772 M371.7,447V772 M499.0,447V772 M626.3,447V772" stroke="#111" stroke-width="2.4" stroke-dasharray="2.4,4.4" fill="none"/>
<path d="M63,708.6H628" stroke="#555" stroke-width="1.4" stroke-dasharray="2.2,4.6" fill="none"/>
<rect x="248.6" y="734.0" width="8.5" height="40.0" fill="#f20d0d" stroke="#1a0000" stroke-width="1.3"/>
<rect x="257.1" y="617.4" width="7.9" height="156.6" fill="#f20d0d" stroke="#1a0000" stroke-width="1.3"/>
<rect x="265.0" y="502.8" width="7.6" height="271.2" fill="#f20d0d" stroke="#1a0000" stroke-width="1.3"/>
<rect x="272.6" y="484.5" width="7.9" height="289.5" fill="#f20d0d" stroke="#1a0000" stroke-width="1.3"/>
<rect x="280.5" y="545.3" width="8.3" height="228.7" fill="#f20d0d" stroke="#1a0000" stroke-width="1.3"/>
<rect x="288.8" y="624.6" width="8.0" height="149.4" fill="#f20d0d" stroke="#1a0000" stroke-width="1.3"/>
<rect x="296.8" y="687.4" width="8.7" height="86.6" fill="#f20d0d" stroke="#1a0000" stroke-width="1.3"/>
<rect x="305.5" y="728.5" width="8.8" height="45.5" fill="#f20d0d" stroke="#1a0000" stroke-width="1.3"/>
<rect x="314.3" y="752.0" width="7.7" height="22.0" fill="#f20d0d" stroke="#1a0000" stroke-width="1.3"/>
<rect x="322.0" y="765.2" width="7.8" height="8.8" fill="#f20d0d" stroke="#1a0000" stroke-width="1.3"/>
<rect x="329.8" y="769.5" width="7.7" height="4.5" fill="#f20d0d" stroke="#1a0000" stroke-width="1.3"/>
<rect x="337.5" y="772.2" width="5.8" height="1.8" fill="#f20d0d" stroke="#1a0000" stroke-width="1.3"/>
<path d="M62,447V774H632" stroke="#333" stroke-width="1.6" fill="none"/>
<path d="M58,774.0H62 M58,708.6H62 M58,643.2H62 M58,577.8H62 M58,512.4H62 M58,447.0H62 M59,741.3H66 M59,675.9H66 M59,610.5H66 M59,545.1H66 M59,479.7H66 M117.1,770V778 M155.4,770V778 M177.8,770V778 M193.7,770V778 M206.1,770V778 M216.2,770V778 M224.7,770V778 M232.1,770V778 M238.6,770V778 M244.4,770V778 M282.7,770V778 M305.1,770V778 M321.0,770V778 M333.4,770V778 M343.5,770V778 M352.0,770V778 M359.4,770V778 M365.9,770V778 M371.7,770V778 M410.0,770V778 M432.4,770V778 M448.3,770V778 M460.7,770V778 M470.8,770V778 M479.3,770V778 M486.7,770V778 M493.2,770V778 M499.0,770V778 M537.3,770V778 M559.7,770V778 M575.6,770V778 M588.0,770V778 M598.1,770V778 M606.6,770V778 M614.0,770V778 M620.5,770V778 M626.3,770V778" stroke="#222" stroke-width="1.6" fill="none"/>
<text x="57.8" y="453.0" font-size="17.0" font-family="'Liberation Sans', Arial, sans-serif" font-weight="normal" text-anchor="end" fill="#222" textLength="14.5" lengthAdjust="spacingAndGlyphs" stroke="#222" stroke-width="0.3">25</text>
<text x="57.8" y="518.4" font-size="17.0" font-family="'Liberation Sans', Arial, sans-serif" font-weight="normal" text-anchor="end" fill="#222" textLength="14.5" lengthAdjust="spacingAndGlyphs" stroke="#222" stroke-width="0.3">20</text>
<text x="57.8" y="583.8" font-size="17.0" font-family="'Liberation Sans', Arial, sans-serif" font-weight="normal" text-anchor="end" fill="#222" textLength="14.5" lengthAdjust="spacingAndGlyphs" stroke="#222" stroke-width="0.3">15</text>
<text x="57.8" y="649.2" font-size="17.0" font-family="'Liberation Sans', Arial, sans-serif" font-weight="normal" text-anchor="end" fill="#222" textLength="14.5" lengthAdjust="spacingAndGlyphs" stroke="#222" stroke-width="0.3">10</text>
<text x="57.8" y="714.6" font-size="17.0" font-family="'Liberation Sans', Arial, sans-serif" font-weight="normal" text-anchor="end" fill="#222" textLength="7.5" lengthAdjust="spacingAndGlyphs" stroke="#222" stroke-width="0.3">5</text>
<text x="57.8" y="780.0" font-size="17.0" font-family="'Liberation Sans', Arial, sans-serif" font-weight="normal" text-anchor="end" fill="#222" textLength="7.5" lengthAdjust="spacingAndGlyphs" stroke="#222" stroke-width="0.3">0</text>
<text x="115.0" y="802.5" font-size="16.0" font-family="'Liberation Sans', Arial, sans-serif" font-weight="normal" text-anchor="start" fill="#222" textLength="5.5" lengthAdjust="spacingAndGlyphs" stroke="#222" stroke-width="0.3">1</text>
<text x="238.0" y="802.5" font-size="16.0" font-family="'Liberation Sans', Arial, sans-serif" font-weight="normal" text-anchor="start" fill="#222" textLength="13.5" lengthAdjust="spacingAndGlyphs" stroke="#222" stroke-width="0.3">10</text>
<text x="361.0" y="802.5" font-size="16.0" font-family="'Liberation Sans', Arial, sans-serif" font-weight="normal" text-anchor="start" fill="#222" textLength="20.0" lengthAdjust="spacingAndGlyphs" stroke="#222" stroke-width="0.3">100</text>
<text x="485.0" y="802.5" font-size="16.0" font-family="'Liberation Sans', Arial, sans-serif" font-weight="normal" text-anchor="start" fill="#222" textLength="27.0" lengthAdjust="spacingAndGlyphs" stroke="#222" stroke-width="0.3">1000</text>
<text x="609.0" y="802.5" font-size="16.0" font-family="'Liberation Sans', Arial, sans-serif" font-weight="normal" text-anchor="start" fill="#222" textLength="27.6" lengthAdjust="spacingAndGlyphs" stroke="#222" stroke-width="0.3">1000</text>
<text x="313.4" y="829.5" font-size="18.0" font-family="'Liberation Sans', Arial, sans-serif" font-weight="normal" text-anchor="start" fill="#222" textLength="64.8" lengthAdjust="spacingAndGlyphs" stroke="#222" stroke-width="0.3">Size (d.nm)</text>
<text x="0.0" y="0.0" font-size="13.5" font-family="'Liberation Sans', Arial, sans-serif" font-weight="normal" text-anchor="middle" fill="#222" textLength="89.0" lengthAdjust="spacingAndGlyphs" transform="translate(36.0,609.4) rotate(-90)" stroke="#222" stroke-width="0.4">Number (%)</text>
<text x="119.2" y="489.2" font-size="37.0" font-family="'Liberation Serif', 'Times New Roman', serif" font-weight="bold" text-anchor="start" fill="#111" textLength="28.5" lengthAdjust="spacingAndGlyphs">C</text>
<path d="M564,841.5H597" stroke="#222" stroke-width="2" stroke-dasharray="5,4"/>
<path d="M702.4,436.7H1219.6V783H702.4Z" stroke="#111" stroke-width="2.2" fill="none"/>
<path d="M695,783.0H702 M698,748.4H702 M695,713.7H702 M698,679.0H702 M695,644.4H702 M698,609.8H702 M695,575.1H702 M698,540.5H702 M695,505.8H702 M698,471.2H702 M702.6,783V789 M745.1,783V786 M787.6,783V789 M830.1,783V786 M872.6,783V789 M915.0,783V786 M957.5,783V789 M1000.0,783V786 M1042.5,783V789 M1085.0,783V786 M1127.5,783V789 M1170.0,783V786 M1212.5,783V789" stroke="#111" stroke-width="1.8" fill="none"/>
<text x="689.7" y="788.6" font-size="18.0" font-family="'Liberation Sans', Arial, sans-serif" font-weight="bold" text-anchor="end" fill="#222" textLength="8.5" lengthAdjust="spacingAndGlyphs">0</text>
<text x="689.7" y="719.3" font-size="18.0" font-family="'Liberation Sans', Arial, sans-serif" font-weight="bold" text-anchor="end" fill="#222" textLength="26.0" lengthAdjust="spacingAndGlyphs">200</text>
<text x="689.7" y="650.0" font-size="18.0" font-family="'Liberation Sans', Arial, sans-serif" font-weight="bold" text-anchor="end" fill="#222" textLength="26.0" lengthAdjust="spacingAndGlyphs">400</text>
<text x="689.7" y="580.7" font-size="18.0" font-family="'Liberation Sans', Arial, sans-serif" font-weight="bold" text-anchor="end" fill="#222" textLength="26.0" lengthAdjust="spacingAndGlyphs">600</text>
<text x="689.7" y="511.4" font-size="18.0" font-family="'Liberation Sans', Arial, sans-serif" font-weight="bold" text-anchor="end" fill="#222" textLength="26.0" lengthAdjust="spacingAndGlyphs">800</text>
<text x="702.6" y="809.0" font-size="19.0" font-family="'Liberation Sans', Arial, sans-serif" font-weight="bold" text-anchor="middle" fill="#222" textLength="16.5" lengthAdjust="spacingAndGlyphs">20</text>
<text x="787.6" y="809.0" font-size="19.0" font-family="'Liberation Sans', Arial, sans-serif" font-weight="bold" text-anchor="middle" fill="#222" textLength="16.5" lengthAdjust="spacingAndGlyphs">30</text>
<text x="872.6" y="809.0" font-size="19.0" font-family="'Liberation Sans', Arial, sans-serif" font-weight="bold" text-anchor="middle" fill="#222" textLength="16.5" lengthAdjust="spacingAndGlyphs">40</text>
<text x="957.5" y="809.0" font-size="19.0" font-family="'Liberation Sans', Arial, sans-serif" font-weight="bold" text-anchor="middle" fill="#222" textLength="16.5" lengthAdjust="spacingAndGlyphs">50</text>
<text x="1042.5" y="809.0" font-size="19.0" font-family="'Liberation Sans', Arial, sans-serif" font-weight="bold" text-anchor="middle" fill="#222" textLength="16.5" lengthAdjust="spacingAndGlyphs">60</text>
<text x="1127.5" y="809.0" font-size="19.0" font-family="'Liberation Sans', Arial, sans-serif" font-weight="bold" text-anchor="middle" fill="#222" textLength="16.5" lengthAdjust="spacingAndGlyphs">70</text>
<text x="1212.5" y="809.0" font-size="19.0" font-family="'Liberation Sans', Arial, sans-serif" font-weight="bold" text-anchor="middle" fill="#222" textLength="16.5" lengthAdjust="spacingAndGlyphs">80</text>
<text x="955.3" y="827.8" font-size="16.0" font-family="'Liberation Sans', Arial, sans-serif" font-weight="bold" text-anchor="middle" fill="#222" textLength="18.0" lengthAdjust="spacingAndGlyphs">20</text>
<text x="0.0" y="0.0" font-size="17.0" font-family="'Liberation Serif', 'Times New Roman', serif" font-weight="bold" text-anchor="middle" fill="#222" textLength="60.5" lengthAdjust="spacingAndGlyphs" transform="translate(649.0,611.6) rotate(-90)">Intensity</text>
<text x="758.6" y="499.4" font-size="37.0" font-family="'Liberation Serif', 'Times New Roman', serif" font-weight="bold" text-anchor="start" fill="#111" textLength="27.6" lengthAdjust="spacingAndGlyphs">D</text>
<text x="843.9" y="466.0" font-size="31.0" font-family="'Liberation Sans', Arial, sans-serif" font-weight="normal" text-anchor="start" fill="#1a1a1a" textLength="23.8" lengthAdjust="spacingAndGlyphs">111</text>
<text x="834.3" y="501.6" font-size="31.0" font-family="'Liberation Sans', Arial, sans-serif" font-weight="normal" text-anchor="start" fill="#1a1a1a" textLength="44.7" lengthAdjust="spacingAndGlyphs">36.45</text>
<text x="912.0" y="548.6" font-size="31.0" font-family="'Liberation Sans', Arial, sans-serif" font-weight="normal" text-anchor="start" fill="#1a1a1a" textLength="28.6" lengthAdjust="spacingAndGlyphs">200</text>
<text x="903.9" y="584.3" font-size="31.0" font-family="'Liberation Sans', Arial, sans-serif" font-weight="normal" text-anchor="start" fill="#1a1a1a" textLength="44.8" lengthAdjust="spacingAndGlyphs">46.35</text>
<text x="989.8" y="584.3" font-size="31.0" font-family="'Liberation Sans', Arial, sans-serif" font-weight="normal" text-anchor="start" fill="#1a1a1a" textLength="28.5" lengthAdjust="spacingAndGlyphs">220</text>
<text x="981.7" y="619.9" font-size="31.0" font-family="'Liberation Sans', Arial, sans-serif" font-weight="normal" text-anchor="start" fill="#1a1a1a" textLength="44.7" lengthAdjust="spacingAndGlyphs">56.75</text>
<text x="1067.6" y="603.6" font-size="31.0" font-family="'Liberation Sans', Arial, sans-serif" font-weight="normal" text-anchor="start" fill="#1a1a1a" textLength="28.5" lengthAdjust="spacingAndGlyphs">240</text>
<text x="1059.3" y="639.4" font-size="31.0" font-family="'Liberation Sans', Arial, sans-serif" font-weight="normal" text-anchor="start" fill="#1a1a1a" textLength="43.3" lengthAdjust="spacingAndGlyphs">64.45</text>
<text x="1176.1" y="722.0" font-size="31.0" font-family="'Liberation Sans', Arial, sans-serif" font-weight="normal" text-anchor="start" fill="#1a1a1a" textLength="27.0" lengthAdjust="spacingAndGlyphs">311</text>
<text x="1168.0" y="757.6" font-size="31.0" font-family="'Liberation Sans', Arial, sans-serif" font-weight="normal" text-anchor="start" fill="#1a1a1a" textLength="44.7" lengthAdjust="spacingAndGlyphs">76.05</text>
<path d="M702.6,775.7 L703.6,775.1 L704.6,775.7 L705.7,775.3 L706.7,775.4 L707.7,777.0 L708.7,777.2 L709.7,775.4 L710.8,776.9 L711.8,777.1 L712.8,775.4 L713.8,776.8 L714.8,776.0 L715.9,777.0 L716.9,776.7 L717.9,778.0 L718.9,776.9 L719.9,776.4 L721.0,777.3 L722.0,776.9 L723.0,777.1 L724.0,778.7 L725.0,777.1 L726.1,777.5 L727.1,778.3 L728.1,779.0 L729.1,777.0 L730.1,778.0 L731.2,777.5 L732.2,777.1 L733.2,777.6 L734.2,777.1 L735.2,778.4 L736.3,777.5 L737.3,778.4 L738.3,777.2 L739.3,777.4 L740.3,779.3 L741.4,779.3 L742.4,779.1 L743.4,777.3 L744.4,778.6 L745.4,778.2 L746.4,779.0 L747.5,778.5 L748.5,778.8 L749.5,778.9 L750.5,778.4 L751.5,778.4 L752.6,777.6 L753.6,778.2 L754.6,777.6 L755.6,777.8 L756.6,777.5 L757.7,778.2 L758.7,779.5 L759.7,777.8 L760.7,777.6 L761.7,777.7 L762.8,778.5 L763.8,778.2 L764.8,779.4 L765.8,777.9 L766.8,778.5 L767.9,779.2 L768.9,779.8 L769.9,777.8 L770.9,777.5 L771.9,779.7 L773.0,778.0 L774.0,778.9 L775.0,779.5 L776.0,779.2 L777.0,778.0 L778.1,777.8 L779.1,779.8 L780.1,778.4 L781.1,779.8 L782.1,778.1 L783.2,779.1 L784.2,777.7 L785.2,777.5 L786.2,778.6 L787.2,777.4 L788.3,779.1 L789.3,779.6 L790.3,778.4 L791.3,779.7 L792.3,779.3 L793.4,778.8 L794.4,778.3 L795.4,779.4 L796.4,779.6 L797.4,777.6 L798.5,778.9 L799.5,777.3 L800.5,777.5 L801.5,778.7 L802.5,778.5 L803.6,778.3 L804.6,778.0 L805.6,778.1 L806.6,778.1 L807.6,778.0 L808.7,777.2 L809.7,778.2 L810.7,778.3 L811.7,777.6 L812.7,778.7 L813.8,778.5 L814.8,776.8 L815.8,777.9 L816.8,777.8 L817.8,779.0 L818.9,778.0 L819.9,777.5 L820.9,778.8 L821.9,777.3 L822.9,777.2 L824.0,778.5 L825.0,777.0 L826.0,777.3 L827.0,776.6 L828.0,777.3 L829.1,776.3 L830.1,776.1 L831.1,777.6 L832.1,777.3 L833.1,775.6 L834.1,774.7 L835.2,776.1 L836.2,775.3 L837.2,774.6 L838.2,774.8 L839.2,774.2 L840.3,773.7 L841.3,772.7 L842.3,771.0 L843.3,770.3 L844.3,768.5 L845.4,765.6 L846.4,765.6 L847.4,762.5 L848.4,760.3 L849.4,759.3 L850.5,756.4 L851.5,749.9 L852.5,742.3 L853.5,726.2 L854.5,698.2 L855.6,655.7 L856.6,602.4 L857.6,544.9 L858.6,505.2 L859.6,500.6 L860.7,536.3 L861.7,590.9 L862.7,648.7 L863.7,692.8 L864.7,721.9 L865.8,739.3 L866.8,750.8 L867.8,757.6 L868.8,761.9 L869.8,763.8 L870.9,766.8 L871.9,767.1 L872.9,768.4 L873.9,771.1 L874.9,771.8 L876.0,771.3 L877.0,772.3 L878.0,772.5 L879.0,774.0 L880.0,774.9 L881.1,774.9 L882.1,773.9 L883.1,775.5 L884.1,775.5 L885.1,775.5 L886.2,775.6 L887.2,775.8 L888.2,774.6 L889.2,776.6 L890.2,777.0 L891.3,774.8 L892.3,774.9 L893.3,774.7 L894.3,776.0 L895.3,774.7 L896.4,774.8 L897.4,776.4 L898.4,775.1 L899.4,774.8 L900.4,775.1 L901.5,775.3 L902.5,775.7 L903.5,775.3 L904.5,775.4 L905.5,775.5 L906.6,773.9 L907.6,774.2 L908.6,772.5 L909.6,773.8 L910.6,771.1 L911.7,770.8 L912.7,769.3 L913.7,768.2 L914.7,766.7 L915.7,765.6 L916.7,764.4 L917.8,758.8 L918.8,754.2 L919.8,744.0 L920.8,727.3 L921.8,704.0 L922.9,672.6 L923.9,635.2 L924.9,603.4 L925.9,585.8 L926.9,589.8 L928.0,612.5 L929.0,648.3 L930.0,682.8 L931.0,712.8 L932.0,733.9 L933.1,746.5 L934.1,753.7 L935.1,759.9 L936.1,761.1 L937.1,762.5 L938.2,763.9 L939.2,764.9 L940.2,768.0 L941.2,767.7 L942.2,768.5 L943.3,771.7 L944.3,772.3 L945.3,773.3 L946.3,773.5 L947.3,774.4 L948.4,774.7 L949.4,774.4 L950.4,776.5 L951.4,776.7 L952.4,776.7 L953.5,776.9 L954.5,777.2 L955.5,775.1 L956.5,775.5 L957.5,777.5 L958.6,776.6 L959.6,777.1 L960.6,777.2 L961.6,777.2 L962.6,776.5 L963.7,776.7 L964.7,777.3 L965.7,777.7 L966.7,777.4 L967.7,777.9 L968.8,776.9 L969.8,776.5 L970.8,777.3 L971.8,778.1 L972.8,777.8 L973.9,777.3 L974.9,776.7 L975.9,776.3 L976.9,777.2 L977.9,776.1 L979.0,776.5 L980.0,776.9 L981.0,777.0 L982.0,776.6 L983.0,775.9 L984.1,776.5 L985.1,775.7 L986.1,776.1 L987.1,776.4 L988.1,775.4 L989.2,774.8 L990.2,776.0 L991.2,774.7 L992.2,774.2 L993.2,772.6 L994.3,771.7 L995.3,772.2 L996.3,769.8 L997.3,768.7 L998.3,768.1 L999.4,764.7 L1000.4,761.0 L1001.4,751.4 L1002.4,738.3 L1003.4,716.8 L1004.4,688.3 L1005.5,656.8 L1006.5,631.3 L1007.5,624.2 L1008.5,639.8 L1009.5,667.4 L1010.6,700.5 L1011.6,726.5 L1012.6,743.3 L1013.6,756.4 L1014.6,762.8 L1015.7,766.7 L1016.7,767.2 L1017.7,770.7 L1018.7,772.3 L1019.7,771.3 L1020.8,773.9 L1021.8,772.8 L1022.8,773.7 L1023.8,773.8 L1024.8,773.8 L1025.9,775.0 L1026.9,774.7 L1027.9,776.8 L1028.9,775.2 L1029.9,775.9 L1031.0,775.4 L1032.0,776.8 L1033.0,775.1 L1034.0,774.3 L1035.0,775.9 L1036.1,774.7 L1037.1,773.6 L1038.1,772.7 L1039.1,774.3 L1040.1,775.0 L1041.2,775.5 L1042.2,775.2 L1043.2,775.4 L1044.2,776.6 L1045.2,776.9 L1046.3,777.0 L1047.3,777.2 L1048.3,777.0 L1049.3,777.9 L1050.3,776.8 L1051.4,775.7 L1052.4,777.0 L1053.4,776.2 L1054.4,777.5 L1055.4,776.2 L1056.5,775.9 L1057.5,776.0 L1058.5,776.3 L1059.5,776.2 L1060.5,775.7 L1061.6,774.9 L1062.6,776.5 L1063.6,776.4 L1064.6,774.5 L1065.6,773.7 L1066.7,774.3 L1067.7,774.0 L1068.7,772.7 L1069.7,773.2 L1070.7,772.1 L1071.8,771.2 L1072.8,768.7 L1073.8,767.2 L1074.8,764.1 L1075.8,757.6 L1076.9,748.2 L1077.9,736.2 L1078.9,715.8 L1079.9,692.4 L1080.9,666.6 L1082.0,648.6 L1083.0,644.0 L1084.0,654.5 L1085.0,676.6 L1086.0,700.7 L1087.0,723.7 L1088.1,741.6 L1089.1,753.1 L1090.1,760.6 L1091.1,764.0 L1092.1,768.4 L1093.2,768.3 L1094.2,770.9 L1095.2,771.6 L1096.2,772.8 L1097.2,772.6 L1098.3,773.1 L1099.3,774.2 L1100.3,774.7 L1101.3,774.3 L1102.3,774.0 L1103.4,774.9 L1104.4,773.5 L1105.4,772.0 L1106.4,772.1 L1107.4,771.9 L1108.5,772.1 L1109.5,771.9 L1110.5,773.4 L1111.5,774.0 L1112.5,775.1 L1113.6,777.1 L1114.6,777.6 L1115.6,777.6 L1116.6,777.9 L1117.6,776.8 L1118.7,776.5 L1119.7,776.5 L1120.7,778.1 L1121.7,776.7 L1122.7,778.1 L1123.8,777.9 L1124.8,777.2 L1125.8,778.8 L1126.8,778.8 L1127.8,777.0 L1128.9,778.4 L1129.9,778.2 L1130.9,777.7 L1131.9,777.5 L1132.9,779.2 L1134.0,778.4 L1135.0,778.2 L1136.0,778.0 L1137.0,778.7 L1138.0,777.8 L1139.1,776.9 L1140.1,778.3 L1141.1,778.0 L1142.1,779.0 L1143.1,778.6 L1144.2,777.7 L1145.2,779.0 L1146.2,777.2 L1147.2,777.1 L1148.2,779.1 L1149.3,777.1 L1150.3,778.4 L1151.3,777.5 L1152.3,777.5 L1153.3,778.6 L1154.4,777.7 L1155.4,777.8 L1156.4,777.4 L1157.4,778.7 L1158.4,777.5 L1159.5,777.0 L1160.5,777.7 L1161.5,778.0 L1162.5,779.0 L1163.5,778.1 L1164.6,778.5 L1165.6,777.6 L1166.6,777.6 L1167.6,777.9 L1168.6,778.8 L1169.7,777.7 L1170.7,777.7 L1171.7,778.7 L1172.7,777.0 L1173.7,777.5 L1174.7,778.8 L1175.8,776.8 L1176.8,778.6 L1177.8,778.1 L1178.8,777.1 L1179.8,777.3 L1180.9,777.3 L1181.9,777.0 L1182.9,777.3 L1183.9,777.4 L1184.9,777.5 L1186.0,777.3 L1187.0,775.1 L1188.0,774.1 L1189.0,773.2 L1190.0,770.8 L1191.1,769.3 L1192.1,766.8 L1193.1,763.8 L1194.1,760.4 L1195.1,761.5 L1196.2,760.9 L1197.2,763.3 L1198.2,764.6 L1199.2,768.4 L1200.2,771.1 L1201.3,773.0 L1202.3,774.2 L1203.3,774.7 L1204.3,776.4 L1205.3,775.7 L1206.4,777.8 L1207.4,777.7 L1208.4,778.3" stroke="#111" stroke-width="2" fill="none" stroke-linejoin="round"/>
<path d="M855.6,575 L857.2,541.5" stroke="#6a6aa0" stroke-width="1.6" fill="none"/>
<path d="M925,640 L926.2,614" stroke="#6a6aa0" stroke-width="1.6" fill="none"/>
<defs>
<linearGradient id="temg" x1="0" y1="0" x2="1" y2="0">
<stop offset="0.000" stop-color="#e8e8e8"/><stop offset="0.015" stop-color="#dadada"/><stop offset="0.100" stop-color="#d8d8d8"/><stop offset="0.250" stop-color="#c7c7c7"/><stop offset="0.400" stop-color="#c6c6c6"/><stop offset="0.550" stop-color="#b8b8b8"/><stop offset="0.700" stop-color="#b5b5b5"/><stop offset="0.850" stop-color="#b3b3b3"/><stop offset="1.000" stop-color="#adadad"/>
</linearGradient>
<filter id="blurL" x="-50%" y="-50%" width="200%" height="200%"><feGaussianBlur stdDeviation="18"/></filter>
<filter id="blurM" x="-50%" y="-50%" width="200%" height="200%"><feGaussianBlur stdDeviation="2.2"/></filter>
<filter id="blurS" x="-50%" y="-50%" width="200%" height="200%"><feGaussianBlur stdDeviation="1.1"/></filter>
<filter id="noise" x="0" y="0" width="100%" height="100%"><feTurbulence type="fractalNoise" baseFrequency="0.35" numOctaves="2" seed="4"/><feColorMatrix type="matrix" values="0 0 0 0 0  0 0 0 0 0  0 0 0 0 0  1.6 0 0 0 -0.55"/></filter>
<filter id="noiseW" x="0" y="0" width="100%" height="100%"><feTurbulence type="fractalNoise" baseFrequency="0.35" numOctaves="2" seed="9"/><feColorMatrix type="matrix" values="0 0 0 0 1  0 0 0 0 1  0 0 0 0 1  1.6 0 0 0 -0.55"/></filter>
<clipPath id="clipE"><rect x="1229" y="428.6" width="667" height="355.9"/></clipPath>
</defs>
<rect x="1229" y="428.6" width="667" height="355.9" fill="url(#temg)"/>
<g clip-path="url(#clipE)">
<ellipse cx="1555" cy="442" rx="70" ry="24" transform="rotate(0 1555 442)" fill="#555" opacity="0.90" filter="url(#blurL)"/>
<ellipse cx="1612" cy="433" rx="40" ry="15" transform="rotate(0 1612 433)" fill="#555" opacity="0.50" filter="url(#blurL)"/>
<ellipse cx="1825" cy="605" rx="95" ry="40" transform="rotate(25 1825 605)" fill="#555" opacity="0.95" filter="url(#blurL)"/>
<ellipse cx="1885" cy="615" rx="35" ry="30" transform="rotate(0 1885 615)" fill="#555" opacity="0.40" filter="url(#blurL)"/>
<ellipse cx="1765" cy="628" rx="45" ry="24" transform="rotate(30 1765 628)" fill="#555" opacity="0.50" filter="url(#blurL)"/>
<ellipse cx="1635" cy="710" rx="70" ry="38" transform="rotate(0 1635 710)" fill="#555" opacity="0.38" filter="url(#blurL)"/>
<ellipse cx="1900" cy="432" rx="30" ry="18" transform="rotate(0 1900 432)" fill="#555" opacity="0.60" filter="url(#blurL)"/>
<ellipse cx="1720" cy="585" rx="30" ry="20" transform="rotate(0 1720 585)" fill="#555" opacity="0.30" filter="url(#blurL)"/>
<rect x="1229" y="428.6" width="667" height="355.9" filter="url(#noise)" opacity="0.2"/>
<rect x="1229" y="428.6" width="667" height="355.9" filter="url(#noiseW)" opacity="0.24"/>
<g opacity="0.8"><circle cx="1499.4" cy="666.8" r="1.7" fill="#777777"/><circle cx="1483.1" cy="670.5" r="1.0" fill="#7a7a7a"/><circle cx="1495.9" cy="663.8" r="1.0" fill="#767676"/><circle cx="1526.4" cy="667.4" r="1.6" fill="#868686"/><circle cx="1507.7" cy="641.9" r="1.2" fill="#767676"/><circle cx="1510.4" cy="639.5" r="1.0" fill="#5a5a5a"/><circle cx="1534.4" cy="654.3" r="0.8" fill="#696969"/><circle cx="1494.8" cy="641.7" r="1.1" fill="#7f7f7f"/><circle cx="1546.6" cy="641.8" r="1.4" fill="#797979"/><circle cx="1540.5" cy="660.2" r="1.5" fill="#747474"/><circle cx="1612.5" cy="659.1" r="1.6" fill="#878787"/><circle cx="1528.9" cy="690.3" r="1.3" fill="#5b5b5b"/><circle cx="1568.5" cy="673.1" r="1.2" fill="#6c6c6c"/><circle cx="1482.4" cy="689.7" r="1.6" fill="#5a5a5a"/><circle cx="1543.0" cy="700.1" r="0.9" fill="#727272"/><circle cx="1555.0" cy="657.8" r="0.9" fill="#828282"/><circle cx="1541.9" cy="685.6" r="1.1" fill="#6d6d6d"/><circle cx="1498.0" cy="700.3" r="1.6" fill="#616161"/><circle cx="1556.0" cy="681.1" r="0.8" fill="#777777"/><circle cx="1534.6" cy="649.2" r="1.4" fill="#767676"/><circle cx="1457.5" cy="657.1" r="1.6" fill="#747474"/><circle cx="1522.3" cy="653.0" r="1.2" fill="#676767"/><circle cx="1580.0" cy="660.1" r="1.8" fill="#7f7f7f"/><circle cx="1512.7" cy="695.3" r="1.0" fill="#737373"/><circle cx="1563.9" cy="659.4" r="1.4" fill="#5c5c5c"/><circle cx="1547.3" cy="659.2" r="1.1" fill="#8b8b8b"/><circle cx="1493.8" cy="638.3" r="1.2" fill="#5e5e5e"/><circle cx="1557.9" cy="672.8" r="1.0" fill="#808080"/><circle cx="1506.3" cy="678.4" r="0.9" fill="#7f7f7f"/><circle cx="1497.5" cy="662.4" r="1.7" fill="#656565"/><circle cx="1515.0" cy="648.9" r="1.0" fill="#818181"/><circle cx="1530.1" cy="671.7" r="1.5" fill="#7d7d7d"/><circle cx="1550.2" cy="701.6" r="1.7" fill="#808080"/><circle cx="1536.9" cy="662.7" r="0.9" fill="#7a7a7a"/><circle cx="1547.9" cy="656.9" r="1.5" fill="#6a6a6a"/><circle cx="1482.4" cy="678.6" r="1.3" fill="#7b7b7b"/><circle cx="1548.0" cy="685.6" r="0.9" fill="#686868"/><circle cx="1493.9" cy="663.4" r="1.4" fill="#5e5e5e"/><circle cx="1519.5" cy="699.5" r="1.0" fill="#5b5b5b"/><circle cx="1553.3" cy="667.8" r="1.0" fill="#5c5c5c"/><circle cx="1467.9" cy="577.0" r="1.4" fill="#626262"/><circle cx="1468.7" cy="569.2" r="1.3" fill="#6f6f6f"/><circle cx="1429.6" cy="547.1" r="1.4" fill="#626262"/><circle cx="1397.5" cy="548.0" r="1.3" fill="#707070"/><circle cx="1431.7" cy="530.8" r="0.8" fill="#828282"/><circle cx="1465.0" cy="567.4" r="1.1" fill="#626262"/><circle cx="1466.9" cy="565.0" r="1.3" fill="#898989"/><circle cx="1522.7" cy="574.1" r="1.5" fill="#626262"/><circle cx="1472.9" cy="535.1" r="1.2" fill="#858585"/><circle cx="1443.1" cy="565.9" r="1.7" fill="#8c8c8c"/><circle cx="1489.7" cy="568.1" r="0.8" fill="#848484"/><circle cx="1425.7" cy="577.5" r="1.4" fill="#5f5f5f"/><circle cx="1467.5" cy="568.7" r="1.1" fill="#747474"/><circle cx="1450.9" cy="551.2" r="1.5" fill="#7f7f7f"/><circle cx="1422.7" cy="569.1" r="1.3" fill="#7b7b7b"/><circle cx="1455.0" cy="561.6" r="1.4" fill="#787878"/><circle cx="1529.6" cy="569.9" r="0.9" fill="#8b8b8b"/><circle cx="1404.2" cy="544.2" r="1.1" fill="#5a5a5a"/><circle cx="1443.7" cy="570.7" r="1.4" fill="#7b7b7b"/><circle cx="1486.6" cy="591.6" r="1.5" fill="#767676"/><circle cx="1432.7" cy="565.1" r="1.2" fill="#6a6a6a"/><circle cx="1465.1" cy="579.1" r="1.6" fill="#666666"/><circle cx="1476.6" cy="555.6" r="1.4" fill="#6e6e6e"/><circle cx="1459.0" cy="572.3" r="1.2" fill="#5c5c5c"/><circle cx="1437.3" cy="531.7" r="1.1" fill="#646464"/><circle cx="1480.7" cy="575.3" r="1.7" fill="#747474"/><circle cx="1428.1" cy="576.4" r="1.5" fill="#878787"/><circle cx="1500.2" cy="531.4" r="1.3" fill="#5e5e5e"/><circle cx="1466.5" cy="555.1" r="1.4" fill="#858585"/><circle cx="1445.0" cy="547.4" r="1.1" fill="#8c8c8c"/><circle cx="1810.5" cy="546.0" r="1.2" fill="#666666"/><circle cx="1905.8" cy="567.3" r="1.0" fill="#636363"/><circle cx="1875.0" cy="491.2" r="0.9" fill="#606060"/><circle cx="1820.0" cy="533.4" r="1.6" fill="#5e5e5e"/><circle cx="1842.0" cy="544.7" r="1.3" fill="#656565"/><circle cx="1838.8" cy="519.1" r="1.3" fill="#5c5c5c"/><circle cx="1860.3" cy="578.0" r="1.1" fill="#868686"/><circle cx="1883.4" cy="550.3" r="1.8" fill="#646464"/><circle cx="1808.3" cy="587.5" r="1.7" fill="#5f5f5f"/><circle cx="1796.4" cy="588.2" r="1.2" fill="#767676"/><circle cx="1809.7" cy="570.1" r="1.7" fill="#727272"/><circle cx="1808.5" cy="548.8" r="1.3" fill="#6f6f6f"/><circle cx="1807.6" cy="568.2" r="1.0" fill="#888888"/><circle cx="1885.8" cy="526.7" r="1.7" fill="#616161"/><circle cx="1864.7" cy="612.2" r="1.8" fill="#6d6d6d"/><circle cx="1798.4" cy="549.8" r="1.1" fill="#878787"/><circle cx="1867.1" cy="541.8" r="0.9" fill="#767676"/><circle cx="1832.8" cy="581.9" r="1.1" fill="#5b5b5b"/><circle cx="1861.9" cy="609.3" r="1.2" fill="#5c5c5c"/><circle cx="1862.6" cy="580.0" r="1.6" fill="#626262"/><circle cx="1727.4" cy="579.1" r="1.7" fill="#7b7b7b"/><circle cx="1874.6" cy="527.7" r="1.7" fill="#797979"/><circle cx="1809.7" cy="541.8" r="1.6" fill="#767676"/><circle cx="1825.5" cy="556.5" r="1.5" fill="#828282"/><circle cx="1868.5" cy="585.8" r="1.7" fill="#6a6a6a"/><circle cx="1838.9" cy="582.7" r="1.6" fill="#818181"/><circle cx="1865.2" cy="607.1" r="1.8" fill="#7b7b7b"/><circle cx="1844.9" cy="589.0" r="1.2" fill="#616161"/><circle cx="1809.1" cy="559.3" r="0.8" fill="#5c5c5c"/><circle cx="1819.8" cy="557.5" r="1.6" fill="#7e7e7e"/><circle cx="1308.0" cy="606.1" r="1.0" fill="#7c7c7c"/><circle cx="1245.6" cy="611.5" r="1.6" fill="#737373"/><circle cx="1296.6" cy="622.5" r="0.9" fill="#757575"/><circle cx="1347.6" cy="572.7" r="1.7" fill="#7b7b7b"/><circle cx="1293.3" cy="611.9" r="1.4" fill="#6a6a6a"/><circle cx="1329.9" cy="625.3" r="0.8" fill="#666666"/><circle cx="1302.2" cy="602.6" r="1.1" fill="#888888"/><circle cx="1278.6" cy="621.9" r="0.9" fill="#888888"/><circle cx="1257.5" cy="580.7" r="1.4" fill="#878787"/><circle cx="1309.9" cy="623.3" r="1.2" fill="#727272"/><circle cx="1268.7" cy="572.3" r="1.4" fill="#7c7c7c"/><circle cx="1310.0" cy="627.1" r="1.4" fill="#7b7b7b"/><circle cx="1264.8" cy="763.3" r="1.4" fill="#626262"/><circle cx="1263.2" cy="769.5" r="1.6" fill="#656565"/><circle cx="1253.7" cy="756.9" r="1.7" fill="#676767"/><circle cx="1262.1" cy="735.3" r="0.9" fill="#696969"/><circle cx="1265.2" cy="749.8" r="1.2" fill="#757575"/><circle cx="1269.3" cy="731.3" r="1.6" fill="#626262"/><circle cx="1267.7" cy="765.1" r="1.6" fill="#606060"/><circle cx="1268.3" cy="766.6" r="1.7" fill="#717171"/><circle cx="1276.0" cy="756.8" r="1.6" fill="#7a7a7a"/><circle cx="1294.1" cy="744.7" r="1.6" fill="#787878"/><circle cx="1624.3" cy="581.7" r="1.4" fill="#7a7a7a"/><circle cx="1639.0" cy="573.6" r="1.0" fill="#616161"/><circle cx="1630.9" cy="598.4" r="1.8" fill="#858585"/><circle cx="1625.9" cy="582.0" r="1.8" fill="#777777"/><circle cx="1628.0" cy="582.1" r="1.2" fill="#757575"/><circle cx="1598.9" cy="579.0" r="1.4" fill="#5a5a5a"/><circle cx="1616.2" cy="577.8" r="1.0" fill="#747474"/><circle cx="1588.6" cy="584.7" r="1.2" fill="#666666"/><circle cx="1612.9" cy="577.3" r="1.6" fill="#6e6e6e"/><circle cx="1648.2" cy="568.8" r="1.5" fill="#828282"/><circle cx="1524.1" cy="672.8" r="1.0" fill="#7f7f7f"/><circle cx="1535.9" cy="677.1" r="1.1" fill="#616161"/><circle cx="1498.8" cy="654.0" r="1.6" fill="#737373"/><circle cx="1512.0" cy="690.0" r="1.3" fill="#717171"/><circle cx="1503.7" cy="654.6" r="1.2" fill="#888888"/><circle cx="1514.2" cy="704.6" r="1.1" fill="#606060"/><circle cx="1518.7" cy="680.9" r="1.4" fill="#818181"/><circle cx="1515.2" cy="683.7" r="1.8" fill="#6d6d6d"/><circle cx="1484.6" cy="698.8" r="1.4" fill="#7c7c7c"/><circle cx="1521.3" cy="688.4" r="1.3" fill="#676767"/></g>
<g fill="none" stroke="#f4f4f4" stroke-width="1.6" opacity="0.7" filter="url(#blurS)"><ellipse cx="1240.1" cy="464.1" rx="10.9" ry="6.5"/><ellipse cx="1338.8" cy="497.9" rx="14.5" ry="9.1"/><ellipse cx="1355.6" cy="536.1" rx="15.4" ry="9.2"/><ellipse cx="1382.3" cy="533.8" rx="11.4" ry="6.5"/><ellipse cx="1414.3" cy="528.1" rx="13.4" ry="6.8"/><ellipse cx="1434.7" cy="539.6" rx="10.3" ry="5.6"/><ellipse cx="1478.3" cy="551.2" rx="13.6" ry="7.0"/><ellipse cx="1443.6" cy="575.2" rx="13.2" ry="7.8"/><ellipse cx="1482.7" cy="576.1" rx="12.7" ry="7.4"/><ellipse cx="1413.4" cy="589.0" rx="12.7" ry="7.1"/><ellipse cx="1441.0" cy="595.6" rx="13.6" ry="8.7"/><ellipse cx="1481.0" cy="589.4" rx="14.2" ry="8.5"/><ellipse cx="1526.3" cy="589.4" rx="15.2" ry="9.6"/><ellipse cx="1505.8" cy="585.0" rx="8.0" ry="5.4"/><ellipse cx="1504.0" cy="603.2" rx="15.2" ry="8.8"/><ellipse cx="1531.6" cy="575.2" rx="8.6" ry="5.6"/><ellipse cx="1462.3" cy="434.2" rx="8.6" ry="5.9"/><ellipse cx="1564.4" cy="536.1" rx="14.1" ry="7.2"/><ellipse cx="1561.0" cy="581.1" rx="9.6" ry="5.2"/><ellipse cx="1596.4" cy="430.3" rx="19.6" ry="8.6"/><ellipse cx="1617.0" cy="446.4" rx="15.4" ry="9.6"/><ellipse cx="1722.7" cy="463.6" rx="7.8" ry="5.4"/><ellipse cx="1861.6" cy="466.5" rx="8.6" ry="4.8"/><ellipse cx="1824.6" cy="476.4" rx="7.6" ry="4.8"/><ellipse cx="1771.4" cy="494.4" rx="10.1" ry="6.6"/><ellipse cx="1632.7" cy="496.1" rx="11.6" ry="7.1"/><ellipse cx="1812.9" cy="508.0" rx="11.6" ry="7.1"/><ellipse cx="1840.0" cy="507.6" rx="9.3" ry="5.2"/><ellipse cx="1597.4" cy="581.6" rx="12.6" ry="8.6"/><ellipse cx="1659.6" cy="584.6" rx="10.1" ry="6.1"/><ellipse cx="1702.9" cy="573.3" rx="7.6" ry="4.6"/><ellipse cx="1722.7" cy="585.7" rx="9.1" ry="6.1"/><ellipse cx="1743.5" cy="572.0" rx="14.6" ry="8.6"/><ellipse cx="1756.0" cy="586.4" rx="20.6" ry="11.6"/><ellipse cx="1842.6" cy="591.8" rx="15.1" ry="8.6"/><ellipse cx="1758.8" cy="607.0" rx="7.6" ry="4.8"/><ellipse cx="1255.2" cy="660.4" rx="12.1" ry="7.2"/><ellipse cx="1278.3" cy="665.8" rx="8.6" ry="5.6"/><ellipse cx="1434.7" cy="642.7" rx="7.6" ry="5.1"/><ellipse cx="1461.4" cy="648.9" rx="11.1" ry="6.2"/><ellipse cx="1482.7" cy="665.8" rx="8.6" ry="5.2"/><ellipse cx="1376.0" cy="725.3" rx="9.6" ry="5.8"/><ellipse cx="1557.4" cy="645.3" rx="12.6" ry="8.6"/><ellipse cx="1563.0" cy="629.5" rx="9.6" ry="6.2"/><ellipse cx="1568.5" cy="644.2" rx="15.6" ry="8.6"/><ellipse cx="1588.4" cy="649.6" rx="8.1" ry="5.1"/><ellipse cx="1568.5" cy="659.5" rx="11.6" ry="6.6"/><ellipse cx="1588.4" cy="678.4" rx="13.1" ry="9.6"/><ellipse cx="1603.7" cy="707.8" rx="11.6" ry="6.6"/><ellipse cx="1643.4" cy="623.4" rx="8.1" ry="5.6"/><ellipse cx="1756.1" cy="643.3" rx="9.6" ry="6.1"/><ellipse cx="1835.4" cy="701.9" rx="10.6" ry="6.2"/><ellipse cx="1782.2" cy="754.2" rx="9.1" ry="6.1"/><ellipse cx="1748.9" cy="776.7" rx="8.6" ry="5.6"/><ellipse cx="1562.0" cy="536.5" rx="12.6" ry="7.1"/><ellipse cx="1772.0" cy="781.0" rx="9.6" ry="4.6"/></g>
<g filter="url(#blurS)"><ellipse cx="1240.1" cy="464.1" rx="9.3" ry="4.9" fill="#838383"/><ellipse cx="1338.8" cy="497.9" rx="12.9" ry="7.5" fill="#292929"/><ellipse cx="1355.6" cy="536.1" rx="13.8" ry="7.6" fill="#252525"/><ellipse cx="1382.3" cy="533.8" rx="9.8" ry="4.9" fill="#3f3f3f"/><ellipse cx="1414.3" cy="528.1" rx="11.8" ry="5.2" fill="#393939"/><ellipse cx="1434.7" cy="539.6" rx="8.7" ry="4.0" fill="#4e4e4e"/><ellipse cx="1478.3" cy="551.2" rx="12.0" ry="5.4" fill="#303030"/><ellipse cx="1443.6" cy="575.2" rx="11.6" ry="6.2" fill="#272727"/><ellipse cx="1482.7" cy="576.1" rx="11.1" ry="5.8" fill="#292929"/><ellipse cx="1413.4" cy="589.0" rx="11.1" ry="5.5" fill="#353535"/><ellipse cx="1441.0" cy="595.6" rx="12.0" ry="7.1" fill="#232323"/><ellipse cx="1481.0" cy="589.4" rx="12.6" ry="6.9" fill="#232323"/><ellipse cx="1526.3" cy="589.4" rx="13.6" ry="8.0" fill="#1d1d1d"/><ellipse cx="1505.8" cy="585.0" rx="6.4" ry="3.8" fill="#474747"/><ellipse cx="1504.0" cy="603.2" rx="13.6" ry="7.2" fill="#232323"/><ellipse cx="1531.6" cy="575.2" rx="7.0" ry="4.0" fill="#4e4e4e"/><ellipse cx="1513.8" cy="572.5" rx="5.4" ry="3.0" fill="#5a5a5a"/><ellipse cx="1520.0" cy="565.4" rx="2.8" ry="2.2" fill="#6d6d6d"/><ellipse cx="1462.3" cy="434.2" rx="7.0" ry="4.3" fill="#6d6d6d"/><ellipse cx="1559.2" cy="448.1" rx="5.5" ry="3.4" fill="#606060"/><ellipse cx="1564.4" cy="536.1" rx="12.5" ry="5.6" fill="#303030"/><ellipse cx="1561.0" cy="581.1" rx="8.0" ry="3.6" fill="#5a5a5a"/><ellipse cx="1596.4" cy="430.3" rx="18.0" ry="7.0" fill="#191919"/><ellipse cx="1617.0" cy="446.4" rx="13.8" ry="8.0" fill="#1c1c1c"/><ellipse cx="1722.7" cy="463.6" rx="6.2" ry="3.8" fill="#5a5a5a"/><ellipse cx="1861.6" cy="466.5" rx="7.0" ry="3.2" fill="#5a5a5a"/><ellipse cx="1824.6" cy="476.4" rx="6.0" ry="3.2" fill="#606060"/><ellipse cx="1771.4" cy="494.4" rx="8.5" ry="5.0" fill="#474747"/><ellipse cx="1632.7" cy="496.1" rx="10.0" ry="5.5" fill="#393939"/><ellipse cx="1812.9" cy="508.0" rx="10.0" ry="5.5" fill="#494949"/><ellipse cx="1840.0" cy="507.6" rx="7.7" ry="3.6" fill="#4e4e4e"/><ellipse cx="1597.4" cy="581.6" rx="11.0" ry="7.0" fill="#1d1d1d"/><ellipse cx="1659.6" cy="584.6" rx="8.5" ry="4.5" fill="#474747"/><ellipse cx="1678.5" cy="571.5" rx="5.5" ry="3.0" fill="#5a5a5a"/><ellipse cx="1702.9" cy="573.3" rx="6.0" ry="3.0" fill="#5a5a5a"/><ellipse cx="1722.7" cy="585.7" rx="7.5" ry="4.5" fill="#4e4e4e"/><ellipse cx="1743.5" cy="572.0" rx="13.0" ry="7.0" fill="#272727"/><ellipse cx="1756.0" cy="586.4" rx="19.0" ry="10.0" fill="#151515"/><ellipse cx="1842.6" cy="591.8" rx="13.5" ry="7.0" fill="#272727"/><ellipse cx="1758.8" cy="607.0" rx="6.0" ry="3.2" fill="#5a5a5a"/><ellipse cx="1318.3" cy="612.1" rx="5.5" ry="3.0" fill="#6d6d6d"/><ellipse cx="1255.2" cy="660.4" rx="10.5" ry="5.6" fill="#525252"/><ellipse cx="1278.3" cy="665.8" rx="7.0" ry="4.0" fill="#6d6d6d"/><ellipse cx="1434.7" cy="642.7" rx="6.0" ry="3.5" fill="#6d6d6d"/><ellipse cx="1461.4" cy="648.9" rx="9.5" ry="4.6" fill="#3f3f3f"/><ellipse cx="1482.7" cy="665.8" rx="7.0" ry="3.6" fill="#5a5a5a"/><ellipse cx="1472.0" cy="657.8" rx="5.0" ry="2.6" fill="#5a5a5a"/><ellipse cx="1445.4" cy="659.5" rx="3.6" ry="2.4" fill="#6d6d6d"/><ellipse cx="1396.5" cy="678.2" rx="5.5" ry="3.2" fill="#5a5a5a"/><ellipse cx="1376.0" cy="725.3" rx="8.0" ry="4.2" fill="#4e4e4e"/><ellipse cx="1409.9" cy="752.0" rx="4.5" ry="3.0" fill="#6d6d6d"/><ellipse cx="1370.8" cy="691.5" rx="2.6" ry="2.0" fill="#6d6d6d"/><ellipse cx="1544.0" cy="714.6" rx="3.0" ry="2.4" fill="#5a5a5a"/><ellipse cx="1505.8" cy="729.8" rx="2.6" ry="2.0" fill="#6d6d6d"/><ellipse cx="1257.9" cy="738.6" rx="3.0" ry="2.4" fill="#808080"/><ellipse cx="1537.8" cy="637.3" rx="5.0" ry="3.0" fill="#474747"/><ellipse cx="1557.4" cy="645.3" rx="11.0" ry="7.0" fill="#232323"/><ellipse cx="1563.0" cy="629.5" rx="8.0" ry="4.6" fill="#4e4e4e"/><ellipse cx="1568.5" cy="644.2" rx="14.0" ry="7.0" fill="#2c2c2c"/><ellipse cx="1588.4" cy="649.6" rx="6.5" ry="3.5" fill="#474747"/><ellipse cx="1568.5" cy="659.5" rx="10.0" ry="5.0" fill="#2c2c2c"/><ellipse cx="1538.7" cy="657.8" rx="4.5" ry="3.0" fill="#5a5a5a"/><ellipse cx="1547.6" cy="665.8" rx="3.0" ry="2.4" fill="#5a5a5a"/><ellipse cx="1588.4" cy="678.4" rx="11.5" ry="8.0" fill="#191919"/><ellipse cx="1603.7" cy="707.8" rx="10.0" ry="5.0" fill="#2c2c2c"/><ellipse cx="1643.4" cy="623.4" rx="6.5" ry="4.0" fill="#6d6d6d"/><ellipse cx="1758.8" cy="607.6" rx="5.5" ry="3.0" fill="#5a5a5a"/><ellipse cx="1757.9" cy="626.1" rx="4.0" ry="2.2" fill="#5a5a5a"/><ellipse cx="1756.1" cy="643.3" rx="8.0" ry="4.5" fill="#474747"/><ellipse cx="1760.6" cy="664.0" rx="3.0" ry="2.4" fill="#6d6d6d"/><ellipse cx="1835.4" cy="701.9" rx="9.0" ry="4.6" fill="#2c2c2c"/><ellipse cx="1811.1" cy="719.0" rx="3.0" ry="2.4" fill="#5a5a5a"/><ellipse cx="1892.2" cy="739.8" rx="4.5" ry="3.0" fill="#5a5a5a"/><ellipse cx="1782.2" cy="754.2" rx="7.5" ry="4.5" fill="#343434"/><ellipse cx="1748.9" cy="776.7" rx="7.0" ry="4.0" fill="#5a5a5a"/><ellipse cx="1584.8" cy="780.3" rx="5.5" ry="3.0" fill="#6d6d6d"/><ellipse cx="1693.9" cy="761.4" rx="2.2" ry="2.0" fill="#6d6d6d"/><ellipse cx="1859.8" cy="606.3" rx="5.0" ry="3.0" fill="#474747"/><ellipse cx="1874.2" cy="607.2" rx="5.0" ry="3.0" fill="#474747"/><ellipse cx="1883.2" cy="618.9" rx="5.0" ry="3.0" fill="#474747"/><ellipse cx="1892.2" cy="616.2" rx="4.0" ry="3.0" fill="#474747"/><ellipse cx="1317.4" cy="466.8" rx="2.0" ry="1.8" fill="#808080"/><ellipse cx="1361.0" cy="552.0" rx="2.0" ry="1.8" fill="#808080"/><ellipse cx="1372.5" cy="577.9" rx="2.2" ry="1.8" fill="#808080"/><ellipse cx="1324.5" cy="576.0" rx="2.0" ry="1.8" fill="#808080"/><ellipse cx="1329.9" cy="571.6" rx="2.0" ry="1.8" fill="#808080"/><ellipse cx="1562.0" cy="536.5" rx="11.0" ry="5.5" fill="#353535"/><ellipse cx="1772.0" cy="781.0" rx="8.0" ry="3.0" fill="#474747"/></g>
<rect x="1251" y="769.7" width="123" height="5.4" rx="2" fill="#f4f4f4" stroke="#555" stroke-width="1"/>
<text x="1255.0" y="768.0" font-size="11.0" font-family="'Liberation Sans', Arial, sans-serif" font-weight="bold" text-anchor="start" fill="#f0f0f0" textLength="20.0" lengthAdjust="spacingAndGlyphs" stroke="#444" stroke-width="0.6">50</text>
<text x="1290.0" y="768.0" font-size="8.0" font-family="'Liberation Sans', Arial, sans-serif" font-weight="bold" text-anchor="start" fill="#555" textLength="20.0" lengthAdjust="spacingAndGlyphs">nm</text>
<rect x="1760.5" y="768.8" width="55.4" height="10.7" fill="#e8e8e8" opacity="0.85"/>
<rect x="1822.7" y="768.8" width="60.4" height="10.7" fill="#e8e8e8" opacity="0.85"/>
<text x="1762.0" y="778.0" font-size="10.0" font-family="'Liberation Serif', 'Times New Roman', serif" font-weight="normal" text-anchor="start" fill="#555" textLength="52.0" lengthAdjust="spacingAndGlyphs">200 kV</text>
<text x="1824.0" y="778.0" font-size="10.0" font-family="'Liberation Serif', 'Times New Roman', serif" font-weight="normal" text-anchor="start" fill="#666" textLength="57.0" lengthAdjust="spacingAndGlyphs">X60000</text>
</g>
<path d="M1229,784.2H1896" stroke="#888" stroke-width="1.5"/>
<text x="1238.1" y="797.5" font-size="10.5" font-family="'Liberation Sans', Arial, sans-serif" font-weight="normal" text-anchor="start" fill="#444" font-style="italic" textLength="28.1" lengthAdjust="spacingAndGlyphs">2 µm</text>
<path d="M1238,808.7H1294.2 M1238.3,802V815 M1293.8,802V815" stroke="#333" stroke-width="1.2"/>
<text x="1317.0" y="797.5" font-size="10.5" font-family="'Liberation Sans', Arial, sans-serif" font-weight="bold" text-anchor="start" fill="#555" font-style="italic" textLength="34.0" lengthAdjust="spacingAndGlyphs">Mag =</text>
<text x="1366.0" y="797.5" font-size="10.5" font-family="'Liberation Sans', Arial, sans-serif" font-weight="normal" text-anchor="start" fill="#555" font-style="italic" textLength="48.0" lengthAdjust="spacingAndGlyphs">9.00 K X</text>
<text x="1438.7" y="798.5" font-size="10.5" font-family="'Liberation Sans', Arial, sans-serif" font-weight="normal" text-anchor="start" fill="#555" font-style="italic" textLength="91.0" lengthAdjust="spacingAndGlyphs">EHT = 22.00 kV</text>
<text x="1438.3" y="816.0" font-size="10.5" font-family="'Liberation Sans', Arial, sans-serif" font-weight="normal" text-anchor="start" fill="#555" font-style="italic" textLength="84.4" lengthAdjust="spacingAndGlyphs">WD = 9.42 mm</text>
<text x="1553.6" y="798.5" font-size="10.5" font-family="'Liberation Sans', Arial, sans-serif" font-weight="normal" text-anchor="start" fill="#555" font-style="italic" textLength="86.8" lengthAdjust="spacingAndGlyphs">Signal A = SE1</text>
<text x="1553.6" y="815.5" font-size="10.5" font-family="'Liberation Sans', Arial, sans-serif" font-weight="normal" text-anchor="start" fill="#555" font-style="italic" textLength="107.3" lengthAdjust="spacingAndGlyphs">Photo No. = 11792</text>
<text x="1683.3" y="798.5" font-size="10.5" font-family="'Liberation Sans', Arial, sans-serif" font-weight="normal" text-anchor="start" fill="#555" font-style="italic" textLength="96.5" lengthAdjust="spacingAndGlyphs">Date: 29 Oct 2024</text>
<text x="1682.3" y="815.5" font-size="10.5" font-family="'Liberation Sans', Arial, sans-serif" font-weight="normal" text-anchor="start" fill="#555" font-style="italic" textLength="85.8" lengthAdjust="spacingAndGlyphs">Time: 12:13:39</text>
<path d="M1808,788.3H1851V821.4Q1829.5,815 1808,821.4Z" fill="#3a3a3a"/>
<text x="1809.5" y="804.0" font-size="8.5" font-family="'Liberation Serif', 'Times New Roman', serif" font-weight="bold" text-anchor="start" fill="#eee" textLength="40.0" lengthAdjust="spacingAndGlyphs">ZEISS</text>
<text x="1858.8" y="809.5" font-size="8.0" font-family="'Liberation Sans', Arial, sans-serif" font-weight="bold" text-anchor="start" fill="#444" font-style="italic" textLength="37.0" lengthAdjust="spacingAndGlyphs">NCRRT</text>
<path d="M1232,825.9H1896" stroke="#222" stroke-width="2"/>
<text x="1255.6" y="479.6" font-size="37.5" font-family="'Liberation Serif', 'Times New Roman', serif" font-weight="bold" text-anchor="start" fill="#0a0a0a" textLength="21.8" lengthAdjust="spacingAndGlyphs">E</text>
<path d="M79.0,1363.2H900.5V878.1" stroke="#111" stroke-width="2.4" fill="none"/>
<path d="M79.0,878.1H900.5" stroke="#111" stroke-width="2.6" fill="none"/>
<path d="M79.0,878.1V1363.2H900.5" stroke="#111" stroke-width="3" fill="none"/>
<path d="M70.4,1300.8H79.0 M70.4,1231.1H79.0 M70.4,1161.4H79.0 M70.4,1091.7H79.0 M70.4,1022.0H79.0 M70.4,952.3H79.0 M70.4,882.6H79.0 M185.7,1363.2V1371.2 M300.8,1363.2V1371.2 M415.9,1363.2V1371.2 M531.0,1363.2V1371.2 M646.1,1363.2V1371.2 M761.2,1363.2V1371.2 M876.3,1363.2V1371.2" stroke="#111" stroke-width="2" fill="none"/>
<text x="0.0" y="0.0" font-size="19.5" font-family="'Liberation Sans', Arial, sans-serif" font-weight="bold" text-anchor="middle" fill="#222" textLength="14.4" lengthAdjust="spacingAndGlyphs" transform="translate(56.4,1300.8) rotate(-90)" stroke="#222" stroke-width="0.7">40</text>
<text x="0.0" y="0.0" font-size="19.5" font-family="'Liberation Sans', Arial, sans-serif" font-weight="bold" text-anchor="middle" fill="#222" textLength="14.4" lengthAdjust="spacingAndGlyphs" transform="translate(56.4,1231.1) rotate(-90)" stroke="#222" stroke-width="0.7">50</text>
<text x="0.0" y="0.0" font-size="19.5" font-family="'Liberation Sans', Arial, sans-serif" font-weight="bold" text-anchor="middle" fill="#222" textLength="14.4" lengthAdjust="spacingAndGlyphs" transform="translate(56.4,1161.4) rotate(-90)" stroke="#222" stroke-width="0.7">60</text>
<text x="0.0" y="0.0" font-size="19.5" font-family="'Liberation Sans', Arial, sans-serif" font-weight="bold" text-anchor="middle" fill="#222" textLength="14.4" lengthAdjust="spacingAndGlyphs" transform="translate(56.4,1091.7) rotate(-90)" stroke="#222" stroke-width="0.7">70</text>
<text x="0.0" y="0.0" font-size="19.5" font-family="'Liberation Sans', Arial, sans-serif" font-weight="bold" text-anchor="middle" fill="#222" textLength="14.4" lengthAdjust="spacingAndGlyphs" transform="translate(56.4,1022.0) rotate(-90)" stroke="#222" stroke-width="0.7">80</text>
<text x="0.0" y="0.0" font-size="19.5" font-family="'Liberation Sans', Arial, sans-serif" font-weight="bold" text-anchor="middle" fill="#222" textLength="14.4" lengthAdjust="spacingAndGlyphs" transform="translate(56.4,952.3) rotate(-90)" stroke="#222" stroke-width="0.7">90</text>
<text x="0.0" y="0.0" font-size="19.5" font-family="'Liberation Sans', Arial, sans-serif" font-weight="bold" text-anchor="middle" fill="#222" textLength="20.0" lengthAdjust="spacingAndGlyphs" transform="translate(56.4,882.6) rotate(-90)" stroke="#222" stroke-width="0.7">100</text>
<text x="168.0" y="1391.0" font-size="16.5" font-family="'Liberation Sans', Arial, sans-serif" font-weight="bold" text-anchor="start" fill="#222" textLength="34.0" lengthAdjust="spacingAndGlyphs" stroke="#222" stroke-width="0.4">3500</text>
<text x="283.6" y="1391.0" font-size="16.5" font-family="'Liberation Sans', Arial, sans-serif" font-weight="bold" text-anchor="start" fill="#222" textLength="33.8" lengthAdjust="spacingAndGlyphs" stroke="#222" stroke-width="0.4">3000</text>
<text x="631.0" y="1391.0" font-size="16.5" font-family="'Liberation Sans', Arial, sans-serif" font-weight="bold" text-anchor="start" fill="#222" textLength="32.0" lengthAdjust="spacingAndGlyphs" stroke="#222" stroke-width="0.4">1500</text>
<text x="746.3" y="1391.0" font-size="16.5" font-family="'Liberation Sans', Arial, sans-serif" font-weight="bold" text-anchor="start" fill="#222" textLength="32.4" lengthAdjust="spacingAndGlyphs" stroke="#222" stroke-width="0.4">1000</text>
<text x="864.6" y="1391.0" font-size="16.5" font-family="'Liberation Sans', Arial, sans-serif" font-weight="bold" text-anchor="start" fill="#222" textLength="24.8" lengthAdjust="spacingAndGlyphs" stroke="#222" stroke-width="0.4">500</text>
<path d="M79.5,885.5 L80.6,885.3 L81.7,885.2 L82.8,885.0 L83.9,884.9 L85.0,884.8 L86.0,884.9 L87.0,885.0 L88.0,885.1 L89.0,885.3 L90.0,885.6 L91.0,885.9 L92.0,886.2 L93.0,886.6 L94.0,887.0 L95.0,887.3 L96.0,887.7 L97.0,888.1 L98.0,888.4 L99.0,888.7 L100.0,889.0 L101.0,889.3 L102.0,889.5 L103.0,889.7 L104.0,890.0 L105.0,890.2 L106.0,890.4 L107.0,890.7 L108.0,890.9 L109.0,891.1 L110.0,891.3 L111.0,891.6 L112.0,891.8 L113.0,892.0 L114.0,892.3 L115.0,892.5 L116.0,892.8 L117.0,893.0 L118.0,893.3 L119.0,893.6 L120.0,893.9 L121.0,894.2 L122.0,894.5 L123.0,894.8 L124.0,895.1 L125.0,895.5 L126.1,895.9 L127.1,896.3 L128.1,896.7 L129.1,897.2 L130.1,897.7 L131.2,898.4 L132.3,899.2 L133.4,900.1 L134.4,901.2 L135.5,902.5 L136.6,903.8 L137.7,905.3 L138.7,907.1 L139.7,909.1 L140.8,911.6 L141.8,914.7 L142.8,918.8 L144.1,925.3 L145.3,933.9 L146.6,942.9 L147.6,950.9 L148.6,958.8 L149.6,966.8 L150.6,974.3 L151.6,981.2 L152.7,987.5 L153.7,993.5 L154.8,999.0 L155.9,1004.3 L156.9,1009.3 L158.0,1014.2 L159.1,1018.9 L160.2,1023.3 L161.3,1027.6 L162.3,1031.8 L163.4,1036.0 L164.5,1040.3 L165.6,1044.7 L166.7,1049.2 L167.8,1053.9 L168.9,1058.6 L170.0,1063.4 L171.1,1068.2 L172.2,1073.0 L173.3,1077.8 L174.4,1082.5 L175.5,1087.3 L176.6,1092.0 L177.7,1096.8 L178.9,1101.5 L180.0,1106.3 L181.1,1111.0 L182.2,1115.8 L183.3,1120.5 L184.4,1125.2 L185.5,1130.0 L186.6,1134.7 L187.8,1139.5 L188.9,1144.2 L190.0,1149.0 L191.1,1153.7 L192.2,1158.5 L193.3,1163.3 L194.4,1168.2 L195.5,1173.2 L196.6,1178.1 L197.7,1182.9 L198.8,1187.6 L199.9,1192.2 L201.0,1196.5 L202.1,1200.6 L203.2,1204.7 L204.3,1208.7 L205.3,1212.5 L206.4,1216.0 L207.5,1219.1 L208.6,1221.7 L209.7,1224.1 L210.8,1226.4 L211.9,1228.5 L213.1,1230.5 L214.2,1232.2 L215.3,1233.7 L216.4,1234.8 L217.5,1235.7 L218.8,1236.3 L220.0,1236.7 L221.3,1236.9 L222.3,1236.9 L223.3,1236.7 L224.3,1236.4 L225.3,1236.1 L226.4,1235.6 L227.4,1235.2 L228.4,1234.7 L229.4,1234.2 L230.4,1233.7 L231.4,1233.2 L232.4,1232.8 L233.4,1232.4 L234.4,1232.0 L235.4,1231.6 L236.4,1231.1 L237.5,1230.6 L238.5,1230.1 L239.5,1229.5 L240.5,1228.8 L241.5,1228.0 L242.6,1226.9 L243.7,1225.5 L244.8,1223.7 L245.8,1221.6 L246.9,1219.3 L248.0,1216.8 L249.1,1214.1 L250.2,1210.9 L251.3,1207.2 L252.4,1203.0 L253.4,1198.4 L254.5,1193.6 L255.6,1188.7 L256.7,1183.8 L257.8,1178.8 L258.9,1173.6 L260.0,1168.3 L261.0,1162.8 L262.1,1157.2 L263.2,1151.5 L264.3,1145.8 L265.4,1139.9 L266.5,1133.9 L267.6,1127.9 L268.6,1121.7 L269.7,1115.4 L270.8,1109.1 L271.9,1102.8 L273.0,1096.5 L274.1,1090.1 L275.2,1083.7 L276.2,1077.2 L277.3,1070.6 L278.4,1064.0 L279.5,1057.1 L280.6,1050.0 L281.7,1042.5 L282.8,1034.8 L283.8,1027.1 L284.9,1019.8 L286.0,1012.9 L287.1,1006.8 L288.2,1001.1 L289.3,995.9 L290.4,991.0 L291.4,986.3 L292.5,981.9 L293.6,977.7 L294.7,973.8 L295.8,970.0 L296.9,966.4 L298.0,963.1 L299.0,959.8 L300.1,956.8 L301.2,953.8 L302.3,951.0 L303.3,948.3 L304.3,945.8 L305.3,943.4 L306.3,941.0 L307.4,938.7 L308.4,936.5 L309.4,934.3 L310.4,932.2 L311.4,930.1 L312.4,928.1 L313.4,926.1 L314.4,924.2 L315.4,922.3 L316.4,920.4 L317.4,918.6 L318.5,916.8 L319.5,915.1 L320.5,913.5 L321.5,911.9 L322.5,910.4 L323.6,908.9 L324.6,907.4 L325.7,905.9 L326.7,904.4 L327.8,903.0 L328.9,901.7 L329.9,900.4 L331.0,899.1 L332.0,898.0 L333.1,897.0 L334.1,896.0 L335.2,895.2 L336.2,894.5 L337.3,893.8 L338.4,893.2 L339.4,892.5 L340.4,892.0 L341.5,891.4 L342.6,890.9 L343.6,890.4 L344.6,890.0 L345.7,889.6 L346.8,889.2 L347.8,888.9 L348.8,888.6 L349.8,888.3 L350.9,888.0 L351.9,887.8 L352.9,887.5 L353.9,887.3 L354.9,887.0 L355.9,886.8 L356.9,886.7 L358.0,886.5 L359.0,886.4 L360.0,886.3 L361.0,886.2 L362.0,886.2 L363.0,886.1 L364.0,886.0 L365.0,885.9 L366.0,885.9 L367.0,885.8 L368.0,885.8 L369.0,885.7 L370.0,885.6 L371.0,885.6 L372.0,885.5 L373.0,885.5 L374.0,885.4 L375.0,885.4 L376.0,885.4 L377.0,885.3 L378.0,885.3 L379.0,885.3 L380.0,885.2 L381.0,885.2 L382.0,885.2 L383.0,885.2 L384.0,885.1 L385.0,885.1 L386.0,885.1 L387.0,885.1 L388.0,885.1 L389.0,885.1 L390.0,885.1 L391.0,885.1 L392.1,885.1 L393.1,885.1 L394.1,885.1 L395.1,885.1 L396.1,885.1 L397.1,885.2 L398.2,885.2 L399.2,885.2 L400.2,885.2 L401.2,885.2 L402.2,885.2 L403.3,885.3 L404.3,885.3 L405.3,885.3 L406.3,885.3 L407.3,885.4 L408.4,885.4 L409.4,885.4 L410.4,885.4 L411.4,885.5 L412.4,885.5 L413.5,885.6 L414.5,885.6 L415.5,885.6 L416.5,885.7 L417.5,885.7 L418.5,885.8 L419.6,885.8 L420.6,885.9 L421.6,885.9 L422.6,886.0 L423.6,886.1 L424.7,886.2 L425.7,886.4 L426.7,886.5 L427.7,886.7 L428.8,887.0 L429.8,887.2 L430.8,887.5 L431.8,887.7 L432.8,888.0 L433.9,888.3 L434.9,888.6 L435.9,888.9 L436.9,889.3 L438.0,889.6 L439.0,889.9 L440.0,890.2 L441.0,890.5 L442.0,890.9 L443.0,891.3 L444.0,891.7 L445.0,892.2 L446.0,892.7 L447.0,893.2 L448.0,893.6 L449.0,894.1 L450.0,894.6 L451.0,895.0 L452.0,895.4 L453.0,895.8 L454.0,896.1 L455.0,896.4 L456.0,896.6 L457.0,896.9 L458.0,897.1 L459.0,897.3 L460.0,897.5 L461.0,897.7 L462.0,897.9 L463.1,898.1 L464.1,898.3 L465.1,898.4 L466.1,898.6 L467.1,898.7 L468.1,898.9 L469.1,899.0 L470.1,899.2 L471.1,899.3 L472.1,899.5 L473.1,899.6 L474.1,899.8 L475.1,899.9 L476.1,900.0 L477.1,900.2 L478.2,900.3 L479.2,900.5 L480.2,900.6 L481.2,900.8 L482.2,900.9 L483.2,901.1 L484.2,901.2 L485.2,901.4 L486.2,901.6 L487.2,901.8 L488.2,902.0 L489.2,902.2 L490.2,902.5 L491.2,902.7 L492.2,902.9 L493.2,903.1 L494.2,903.3 L495.2,903.5 L496.2,903.7 L497.2,903.8 L498.2,903.9 L499.2,904.0 L500.2,904.0 L501.3,903.9 L502.3,903.9 L503.4,903.7 L504.5,903.5 L505.6,903.3 L506.6,903.0 L507.7,902.7 L508.8,902.4 L509.9,902.1 L510.9,901.8 L512.0,901.5 L513.1,901.2 L514.2,900.9 L515.2,900.6 L516.3,900.2 L517.4,899.9 L518.5,899.5 L519.6,899.1 L520.6,898.7 L521.7,898.2 L522.8,897.7 L523.8,897.1 L524.9,896.3 L525.9,895.5 L526.9,894.6 L527.9,893.8 L529.0,893.1 L530.0,892.5 L531.0,892.1 L532.1,891.6 L533.1,891.2 L534.2,890.8 L535.2,890.5 L536.2,890.1 L537.3,889.7 L538.3,889.4 L539.4,889.1 L540.4,888.8 L541.5,888.5 L542.5,888.2 L543.5,887.9 L544.6,887.7 L545.6,887.5 L546.7,887.2 L547.7,887.1 L548.7,886.9 L549.8,886.7 L550.8,886.6 L551.9,886.5 L552.9,886.4 L553.9,886.3 L555.0,886.2 L556.0,886.2 L557.0,886.1 L558.1,886.0 L559.1,886.0 L560.1,885.9 L561.2,885.9 L562.2,885.8 L563.3,885.8 L564.3,885.7 L565.3,885.7 L566.4,885.7 L567.4,885.6 L568.4,885.6 L569.5,885.6 L570.5,885.6 L571.5,885.7 L572.5,885.8 L573.5,886.0 L574.5,886.3 L575.5,886.6 L576.5,887.0 L577.5,887.4 L578.5,887.9 L579.5,888.4 L580.5,888.9 L581.5,889.6 L582.5,890.4 L583.5,891.4 L584.5,892.6 L585.5,893.9 L586.6,895.4 L587.6,897.1 L588.6,898.8 L589.6,900.7 L590.6,902.8 L591.7,905.3 L592.7,908.3 L593.8,911.8 L594.9,915.9 L596.0,920.3 L597.0,925.2 L598.1,930.5 L599.2,936.8 L600.2,944.1 L601.3,952.5 L602.4,961.6 L603.5,971.2 L604.5,980.9 L605.6,990.9 L606.7,1002.2 L607.8,1015.2 L608.9,1029.2 L610.0,1043.2 L611.1,1055.9 L612.2,1066.3 L613.3,1073.3 L614.4,1075.8 L615.5,1073.6 L616.5,1067.3 L617.5,1058.1 L618.6,1047.3 L619.7,1036.3 L620.7,1025.6 L621.8,1014.7 L622.8,1002.8 L623.9,990.2 L625.0,978.0 L626.1,966.8 L627.1,957.6 L628.2,951.0 L629.2,946.4 L630.2,942.9 L631.2,939.9 L632.2,937.5 L633.2,935.4 L634.3,933.5 L635.4,932.0 L636.5,930.6 L637.5,929.4 L638.6,928.2 L639.7,926.8 L640.8,925.3 L641.8,923.5 L642.8,921.5 L643.8,919.3 L644.8,917.0 L645.8,914.7 L646.8,912.4 L647.8,910.2 L648.8,908.3 L649.8,906.6 L650.8,905.3 L651.8,904.2 L652.8,903.2 L653.8,902.4 L654.8,901.6 L655.8,900.9 L656.8,900.2 L657.8,899.6 L658.8,898.9 L659.8,898.3 L660.8,897.7 L661.8,897.0 L662.8,896.3 L663.8,895.6 L664.8,894.9 L665.8,894.2 L666.8,893.5 L667.8,892.8 L668.9,892.1 L669.9,891.5 L670.9,891.0 L671.9,890.5 L672.9,890.2 L673.9,889.9 L674.9,889.7 L675.9,889.6 L676.9,889.7 L677.9,889.8 L678.9,889.9 L679.9,890.1 L680.9,890.4 L681.9,890.7 L682.9,891.0 L683.9,891.4 L684.9,891.8 L686.0,892.1 L687.0,892.5 L688.0,892.9 L689.0,893.3 L690.0,893.6 L691.0,893.9 L692.0,894.2 L693.0,894.4 L694.0,894.5 L695.0,894.6 L696.0,894.7 L697.0,894.6 L698.0,894.5 L699.0,894.3 L700.0,894.1 L701.0,893.8 L702.0,893.5 L703.0,893.1 L704.0,892.8 L705.0,892.4 L706.0,892.0 L707.0,891.6 L708.0,891.2 L709.0,890.8 L710.0,890.5 L711.0,890.2 L712.0,889.9 L713.0,889.6 L714.0,889.3 L715.0,888.9 L716.0,888.6 L717.0,888.3 L718.0,887.9 L719.1,887.6 L720.1,887.3 L721.1,887.1 L722.1,886.9 L723.1,886.7 L724.1,886.5 L725.1,886.4 L726.1,886.4 L727.1,886.6 L728.1,886.8 L729.1,887.2 L730.1,887.7 L731.1,888.3 L732.1,888.9 L733.1,889.4 L734.1,889.8 L735.1,890.0 L736.1,890.1 L737.1,890.0 L738.2,889.7 L739.2,889.2 L740.3,888.5 L741.4,887.8 L742.4,887.0 L743.5,886.1 L744.5,885.2 L745.6,884.4 L746.6,883.7 L747.7,883.1 L748.7,882.6 L749.7,882.2 L750.7,881.9 L751.7,881.5 L752.7,881.2 L753.7,880.9 L754.7,880.5 L755.7,880.2 L756.7,880.0 L757.7,879.7 L758.7,879.5 L759.7,879.3 L760.7,879.1 L761.7,879.0 L762.7,878.9 L763.7,879.0 L764.7,879.2 L765.7,879.8 L766.7,880.5 L767.7,881.1 L768.7,881.3 L769.8,881.2 L770.9,880.9 L772.0,880.4 L773.0,879.9 L774.1,879.4 L775.2,879.1 L776.3,878.9 L777.3,879.0 L778.4,879.2 L779.4,879.4 L780.5,879.8 L781.5,880.2 L782.5,880.8 L783.6,881.4 L784.6,882.0 L785.7,882.7 L786.7,883.5 L787.8,884.3 L788.8,885.2 L789.9,886.3 L791.0,887.8 L792.1,889.6 L793.2,891.7 L794.3,893.8 L795.4,896.0 L796.5,898.1 L797.6,899.6" stroke="#111" stroke-width="2" fill="none" stroke-linejoin="round"/>
<text x="207.8" y="947.8" font-size="32.5" font-family="'Liberation Serif', 'Times New Roman', serif" font-weight="bold" text-anchor="start" fill="#111" textLength="45.4" lengthAdjust="spacingAndGlyphs" letter-spacing="4">Fa</text>
<text x="0.0" y="0.0" font-size="25.5" font-family="'Liberation Serif', 'Times New Roman', serif" font-weight="bold" text-anchor="middle" fill="#111" textLength="243.1" lengthAdjust="spacingAndGlyphs" transform="translate(32.0,1105.3) rotate(-90)">Transmittance [%}</text>
<text x="0.0" y="0.0" font-size="18.0" font-family="'Liberation Sans', Arial, sans-serif" font-weight="bold" text-anchor="middle" fill="#222" textLength="76.5" lengthAdjust="spacingAndGlyphs" transform="translate(221.3,1305.2) rotate(-90)">3,353,77</text>
<text x="0.0" y="0.0" font-size="18.0" font-family="'Liberation Sans', Arial, sans-serif" font-weight="bold" text-anchor="middle" fill="#222" textLength="63.6" lengthAdjust="spacingAndGlyphs" transform="translate(615.4,1309.2) rotate(-90)">1,38,91</text>
<text x="374.9" y="1406.5" font-size="29.0" font-family="'Liberation Serif', 'Times New Roman', serif" font-weight="bold" text-anchor="start" fill="#111" textLength="210.7" lengthAdjust="spacingAndGlyphs" stroke="#111" stroke-width="0.7">Wavenumber cm −1</text>
<path d="M992.4,1377.3H1887.2V869.8" stroke="#111" stroke-width="2.4" fill="none"/>
<path d="M992.4,869.8H1887.2" stroke="#111" stroke-width="2.6" fill="none"/>
<path d="M992.4,869.8V1377.3H1887.2" stroke="#111" stroke-width="3" fill="none"/>
<path d="M983.8,1312.6H992.4 M983.8,1239.9H992.4 M983.8,1167.2H992.4 M983.8,1094.5H992.4 M983.8,1021.8H992.4 M983.8,949.1H992.4 M983.8,876.4H992.4 M1114.7,1377.3V1385.3 M1239.4,1377.3V1385.3 M1364.1,1377.3V1385.3 M1488.8,1377.3V1385.3 M1613.5,1377.3V1385.3 M1738.2,1377.3V1385.3 M1862.9,1377.3V1385.3" stroke="#111" stroke-width="2" fill="none"/>
<text x="0.0" y="0.0" font-size="19.5" font-family="'Liberation Sans', Arial, sans-serif" font-weight="bold" text-anchor="middle" fill="#222" textLength="14.4" lengthAdjust="spacingAndGlyphs" transform="translate(969.8,1312.6) rotate(-90)" stroke="#222" stroke-width="0.7">40</text>
<text x="0.0" y="0.0" font-size="19.5" font-family="'Liberation Sans', Arial, sans-serif" font-weight="bold" text-anchor="middle" fill="#222" textLength="14.4" lengthAdjust="spacingAndGlyphs" transform="translate(969.8,1239.9) rotate(-90)" stroke="#222" stroke-width="0.7">50</text>
<text x="0.0" y="0.0" font-size="19.5" font-family="'Liberation Sans', Arial, sans-serif" font-weight="bold" text-anchor="middle" fill="#222" textLength="14.4" lengthAdjust="spacingAndGlyphs" transform="translate(969.8,1167.2) rotate(-90)" stroke="#222" stroke-width="0.7">60</text>
<text x="0.0" y="0.0" font-size="19.5" font-family="'Liberation Sans', Arial, sans-serif" font-weight="bold" text-anchor="middle" fill="#222" textLength="14.4" lengthAdjust="spacingAndGlyphs" transform="translate(969.8,1094.5) rotate(-90)" stroke="#222" stroke-width="0.7">70</text>
<text x="0.0" y="0.0" font-size="19.5" font-family="'Liberation Sans', Arial, sans-serif" font-weight="bold" text-anchor="middle" fill="#222" textLength="14.4" lengthAdjust="spacingAndGlyphs" transform="translate(969.8,1021.8) rotate(-90)" stroke="#222" stroke-width="0.7">80</text>
<text x="0.0" y="0.0" font-size="19.5" font-family="'Liberation Sans', Arial, sans-serif" font-weight="bold" text-anchor="middle" fill="#222" textLength="14.4" lengthAdjust="spacingAndGlyphs" transform="translate(969.8,949.1) rotate(-90)" stroke="#222" stroke-width="0.7">90</text>
<text x="0.0" y="0.0" font-size="19.5" font-family="'Liberation Sans', Arial, sans-serif" font-weight="bold" text-anchor="middle" fill="#222" textLength="20.0" lengthAdjust="spacingAndGlyphs" transform="translate(969.8,876.4) rotate(-90)" stroke="#222" stroke-width="0.7">100</text>
<text x="1095.7" y="1405.8" font-size="16.5" font-family="'Liberation Sans', Arial, sans-serif" font-weight="bold" text-anchor="start" fill="#222" textLength="38.1" lengthAdjust="spacingAndGlyphs" stroke="#222" stroke-width="0.4">3500</text>
<text x="1220.8" y="1405.8" font-size="16.5" font-family="'Liberation Sans', Arial, sans-serif" font-weight="bold" text-anchor="start" fill="#222" textLength="38.0" lengthAdjust="spacingAndGlyphs" stroke="#222" stroke-width="0.4">3000</text>
<text x="1346.2" y="1405.8" font-size="16.5" font-family="'Liberation Sans', Arial, sans-serif" font-weight="bold" text-anchor="start" fill="#222" textLength="36.4" lengthAdjust="spacingAndGlyphs" stroke="#222" stroke-width="0.4">2500</text>
<text x="1470.0" y="1405.8" font-size="16.5" font-family="'Liberation Sans', Arial, sans-serif" font-weight="bold" text-anchor="start" fill="#222" textLength="37.7" lengthAdjust="spacingAndGlyphs" stroke="#222" stroke-width="0.4">2000</text>
<text x="1596.0" y="1405.8" font-size="16.5" font-family="'Liberation Sans', Arial, sans-serif" font-weight="bold" text-anchor="start" fill="#222" textLength="34.8" lengthAdjust="spacingAndGlyphs" stroke="#222" stroke-width="0.4">1500</text>
<text x="1721.8" y="1405.8" font-size="16.5" font-family="'Liberation Sans', Arial, sans-serif" font-weight="bold" text-anchor="start" fill="#222" textLength="34.7" lengthAdjust="spacingAndGlyphs" stroke="#222" stroke-width="0.4">1000</text>
<text x="1849.0" y="1405.8" font-size="16.5" font-family="'Liberation Sans', Arial, sans-serif" font-weight="bold" text-anchor="start" fill="#222" textLength="28.3" lengthAdjust="spacingAndGlyphs" stroke="#222" stroke-width="0.4">500</text>
<path d="M993.3,877.2 L994.4,877.1 L995.4,877.1 L996.5,877.0 L997.5,877.0 L998.6,876.9 L999.6,876.8 L1000.7,876.8 L1001.8,876.7 L1002.8,876.7 L1003.9,876.6 L1004.9,876.6 L1006.0,876.6 L1007.0,876.6 L1008.0,876.7 L1009.1,876.8 L1010.1,877.0 L1011.1,877.2 L1012.1,877.4 L1013.1,877.7 L1014.2,878.0 L1015.2,878.3 L1016.2,878.6 L1017.2,878.9 L1018.2,879.3 L1019.3,879.6 L1020.3,880.0 L1021.3,880.3 L1022.3,880.7 L1023.4,881.0 L1024.4,881.3 L1025.4,881.6 L1026.4,881.9 L1027.4,882.1 L1028.5,882.3 L1029.5,882.5 L1030.5,882.6 L1031.6,882.7 L1032.6,882.8 L1033.7,882.8 L1034.7,882.9 L1035.8,883.0 L1036.8,883.0 L1037.9,883.1 L1038.9,883.2 L1040.0,883.3 L1041.0,883.5 L1042.0,883.8 L1043.1,884.1 L1044.1,884.5 L1045.1,885.0 L1046.1,885.5 L1047.2,886.1 L1048.2,886.7 L1049.2,887.3 L1050.2,888.0 L1051.3,888.7 L1052.3,889.3 L1053.3,890.0 L1054.4,890.7 L1055.4,891.4 L1056.5,892.1 L1057.6,892.8 L1058.7,893.6 L1059.7,894.5 L1060.8,895.5 L1061.9,896.6 L1062.9,897.9 L1064.0,899.4 L1065.1,901.4 L1066.1,904.1 L1067.2,907.4 L1068.2,911.3 L1069.3,915.7 L1070.4,921.1 L1071.5,927.8 L1072.5,935.2 L1073.6,942.7 L1074.7,949.8 L1075.7,956.3 L1076.7,962.7 L1077.7,969.1 L1078.7,975.4 L1079.7,981.5 L1080.7,987.4 L1081.7,992.9 L1082.7,998.1 L1083.8,1003.0 L1084.8,1007.7 L1085.9,1012.2 L1087.0,1016.4 L1088.1,1020.6 L1089.1,1024.6 L1090.2,1028.5 L1091.3,1032.6 L1092.3,1036.6 L1093.4,1040.8 L1094.5,1045.1 L1095.5,1049.3 L1096.6,1053.6 L1097.6,1057.8 L1098.7,1062.1 L1099.8,1066.4 L1100.8,1070.6 L1101.9,1074.9 L1102.9,1079.1 L1104.0,1083.4 L1105.1,1087.7 L1106.1,1092.0 L1107.2,1096.3 L1108.3,1100.6 L1109.3,1104.9 L1110.4,1109.2 L1111.5,1113.5 L1112.6,1117.7 L1113.6,1121.9 L1114.7,1126.1 L1115.8,1130.2 L1116.8,1134.2 L1117.9,1138.2 L1119.0,1142.2 L1120.1,1146.1 L1121.1,1150.1 L1122.2,1154.1 L1123.3,1158.1 L1124.3,1162.1 L1125.4,1166.2 L1126.5,1170.4 L1127.5,1174.8 L1128.6,1179.2 L1129.6,1183.7 L1130.7,1188.1 L1131.8,1192.5 L1132.8,1196.9 L1133.9,1201.0 L1134.9,1205.0 L1136.0,1208.7 L1137.0,1212.3 L1138.0,1215.7 L1139.0,1219.1 L1140.0,1222.4 L1141.1,1225.5 L1142.1,1228.3 L1143.1,1230.7 L1144.1,1232.8 L1145.1,1234.8 L1146.1,1236.6 L1147.1,1238.4 L1148.1,1240.0 L1149.1,1241.4 L1150.1,1242.4 L1151.1,1243.1 L1152.1,1243.4 L1153.1,1243.4 L1154.1,1243.3 L1155.2,1243.2 L1156.2,1242.9 L1157.2,1242.7 L1158.2,1242.3 L1159.3,1242.0 L1160.3,1241.6 L1161.3,1241.2 L1162.3,1240.8 L1163.4,1240.4 L1164.4,1239.9 L1165.4,1239.5 L1166.5,1239.0 L1167.5,1238.6 L1168.6,1238.1 L1169.7,1237.5 L1170.8,1236.9 L1171.8,1236.3 L1172.9,1235.6 L1174.0,1234.7 L1175.0,1233.9 L1176.1,1232.9 L1177.1,1231.7 L1178.1,1230.2 L1179.1,1228.5 L1180.1,1226.5 L1181.1,1224.4 L1182.1,1222.0 L1183.1,1219.5 L1184.1,1216.8 L1185.1,1213.8 L1186.1,1210.5 L1187.1,1206.7 L1188.1,1202.6 L1189.1,1198.3 L1190.1,1193.8 L1191.1,1189.3 L1192.1,1184.8 L1193.1,1180.2 L1194.1,1175.5 L1195.1,1170.6 L1196.1,1165.6 L1197.1,1160.5 L1198.1,1155.3 L1199.1,1150.1 L1200.1,1144.8 L1201.1,1139.4 L1202.1,1133.9 L1203.1,1128.3 L1204.1,1122.7 L1205.1,1116.9 L1206.1,1111.1 L1207.1,1105.3 L1208.1,1099.5 L1209.1,1093.6 L1210.1,1087.5 L1211.1,1081.4 L1212.1,1075.3 L1213.1,1069.2 L1214.1,1063.1 L1215.1,1057.2 L1216.1,1051.4 L1217.1,1045.7 L1218.1,1040.1 L1219.1,1034.5 L1220.1,1029.0 L1221.1,1023.6 L1222.1,1018.5 L1223.1,1013.5 L1224.1,1008.8 L1225.1,1004.3 L1226.1,999.9 L1227.1,995.8 L1228.1,991.8 L1229.1,987.9 L1230.1,984.1 L1231.1,980.3 L1232.1,976.7 L1233.2,972.9 L1234.2,969.1 L1235.3,965.3 L1236.4,961.7 L1237.4,958.1 L1238.5,954.6 L1239.6,951.3 L1240.7,948.0 L1241.7,945.0 L1242.8,942.0 L1243.9,939.2 L1244.9,936.5 L1246.0,933.8 L1247.1,931.3 L1248.2,928.8 L1249.2,926.4 L1250.3,924.2 L1251.4,922.0 L1252.4,920.0 L1253.5,918.0 L1254.5,916.3 L1255.5,914.6 L1256.6,913.0 L1257.6,911.4 L1258.6,909.9 L1259.6,908.4 L1260.7,907.0 L1261.7,905.6 L1262.7,904.3 L1263.7,903.0 L1264.8,901.7 L1265.8,900.5 L1266.8,899.3 L1267.8,898.1 L1268.8,896.9 L1269.9,895.7 L1270.9,894.5 L1271.9,893.3 L1272.9,892.2 L1274.0,891.1 L1275.0,890.1 L1276.0,889.1 L1277.0,888.2 L1278.1,887.4 L1279.1,886.7 L1280.1,886.0 L1281.2,885.4 L1282.3,884.9 L1283.4,884.4 L1284.5,883.9 L1285.6,883.5 L1286.7,883.1 L1287.8,882.7 L1288.9,882.3 L1290.0,882.0 L1291.0,881.7 L1292.0,881.4 L1293.0,881.1 L1294.0,880.8 L1295.0,880.5 L1296.0,880.3 L1297.0,880.1 L1298.0,879.8 L1299.0,879.7 L1300.0,879.5 L1301.0,879.4 L1302.1,879.2 L1303.1,879.1 L1304.1,879.0 L1305.1,878.8 L1306.2,878.7 L1307.2,878.6 L1308.2,878.4 L1309.2,878.3 L1310.3,878.2 L1311.3,878.1 L1312.3,878.0 L1313.3,877.9 L1314.4,877.7 L1315.4,877.6 L1316.4,877.5 L1317.5,877.5 L1318.5,877.4 L1319.5,877.3 L1320.5,877.2 L1321.6,877.1 L1322.6,877.0 L1323.6,877.0 L1324.6,876.9 L1325.7,876.9 L1326.7,876.8 L1327.7,876.8 L1328.7,876.7 L1329.8,876.7 L1330.8,876.7 L1331.8,876.6 L1332.8,876.6 L1333.9,876.6 L1334.9,876.6 L1335.9,876.6 L1336.9,876.6 L1337.9,876.6 L1338.9,876.6 L1339.9,876.6 L1340.9,876.7 L1342.0,876.7 L1343.0,876.7 L1344.0,876.7 L1345.0,876.8 L1346.0,876.8 L1347.0,876.8 L1348.0,876.9 L1349.0,876.9 L1350.0,876.9 L1351.0,877.0 L1352.0,877.0 L1353.0,877.1 L1354.0,877.2 L1355.0,877.2 L1356.1,877.3 L1357.1,877.4 L1358.1,877.4 L1359.1,877.5 L1360.1,877.6 L1361.1,877.7 L1362.1,877.7 L1363.1,877.8 L1364.1,877.9 L1365.1,878.0 L1366.1,878.1 L1367.1,878.2 L1368.1,878.3 L1369.2,878.4 L1370.2,878.5 L1371.2,878.6 L1372.2,878.8 L1373.2,878.9 L1374.2,879.0 L1375.2,879.1 L1376.2,879.3 L1377.2,879.4 L1378.2,879.5 L1379.2,879.7 L1380.2,879.8 L1381.2,880.0 L1382.2,880.1 L1383.3,880.3 L1384.3,880.4 L1385.3,880.6 L1386.3,880.8 L1387.3,880.9 L1388.3,881.1 L1389.3,881.3 L1390.3,881.5 L1391.3,881.8 L1392.3,882.2 L1393.3,882.7 L1394.4,883.2 L1395.4,883.8 L1396.4,884.5 L1397.4,885.4 L1398.5,886.7 L1399.6,888.6 L1400.7,891.1 L1401.8,894.1 L1402.8,897.5 L1403.9,901.2 L1405.0,905.2 L1406.1,909.4 L1407.2,913.7 L1408.3,918.1 L1409.4,923.0 L1410.6,928.5 L1411.7,934.6 L1412.8,941.1 L1413.9,947.8 L1415.1,954.6 L1416.2,961.4 L1417.2,968.2 L1418.3,975.1 L1419.3,982.3 L1420.4,989.7 L1421.5,997.0 L1422.5,1004.1 L1423.5,1010.8 L1424.6,1017.3 L1425.7,1024.2 L1426.8,1031.4 L1427.9,1038.6 L1429.1,1045.2 L1430.2,1050.6 L1431.3,1054.2 L1432.4,1055.7 L1433.5,1055.1 L1434.5,1053.1 L1435.6,1049.9 L1436.7,1045.9 L1437.8,1041.3 L1438.8,1036.3 L1439.9,1030.9 L1440.9,1024.5 L1441.9,1016.4 L1442.9,1007.0 L1443.9,996.9 L1444.9,987.0 L1445.9,977.9 L1446.9,970.0 L1447.9,962.8 L1449.0,955.8 L1450.0,949.0 L1451.1,942.6 L1452.1,936.9 L1453.1,932.0 L1454.2,928.1 L1455.2,925.4 L1456.2,923.5 L1457.3,921.9 L1458.3,920.5 L1459.4,919.2 L1460.4,918.1 L1461.5,917.1 L1462.5,916.2 L1463.6,915.4 L1464.6,914.6 L1465.6,913.9 L1466.7,913.1 L1467.7,912.3 L1468.8,911.5 L1469.8,910.6 L1470.9,909.6 L1471.9,908.5 L1472.9,907.3 L1473.9,906.0 L1474.9,904.6 L1475.9,903.2 L1476.9,901.8 L1477.9,900.3 L1478.9,898.8 L1479.9,897.4 L1480.9,896.0 L1481.9,894.6 L1482.9,893.4 L1483.9,892.3 L1484.9,891.3 L1485.9,890.4 L1487.0,889.6 L1488.0,888.9 L1489.1,888.2 L1490.2,887.5 L1491.2,886.9 L1492.3,886.3 L1493.4,885.7 L1494.5,885.2 L1495.5,884.7 L1496.6,884.2 L1497.7,883.8 L1498.7,883.3 L1499.8,882.9 L1500.8,882.5 L1501.9,882.1 L1502.9,881.7 L1503.9,881.3 L1504.9,880.9 L1506.0,880.5 L1507.0,880.1 L1508.0,879.7 L1509.0,879.3 L1510.1,879.0 L1511.1,878.7 L1512.1,878.4 L1513.1,878.1 L1514.2,877.9 L1515.2,877.7 L1516.2,877.5 L1517.2,877.4 L1518.3,877.3 L1519.3,877.3 L1520.3,877.3 L1521.4,877.3 L1522.4,877.4 L1523.4,877.4 L1524.4,877.4 L1525.5,877.5 L1526.5,877.6 L1527.5,877.7 L1528.5,877.8 L1529.6,877.9 L1530.6,878.0 L1531.6,878.1 L1532.6,878.3 L1533.7,878.4 L1534.7,878.6 L1535.7,878.7 L1536.7,878.9 L1537.8,879.1 L1538.8,879.3 L1539.9,879.7 L1540.9,880.3 L1542.0,881.0 L1543.1,882.0 L1544.1,883.2 L1545.2,884.5 L1546.3,886.0 L1547.4,887.7 L1548.4,889.4 L1549.5,891.3 L1550.6,893.3 L1551.6,895.3 L1552.7,897.5 L1553.8,899.9 L1554.8,902.8 L1555.8,906.2 L1556.9,909.9 L1558.0,914.1 L1559.0,918.5 L1560.0,923.2 L1561.1,928.1 L1562.1,933.4 L1563.2,939.3 L1564.2,945.8 L1565.3,952.7 L1566.3,960.0 L1567.4,967.7 L1568.5,975.6 L1569.5,984.1 L1570.6,994.1 L1571.7,1006.0 L1572.7,1019.3 L1573.8,1032.9 L1574.9,1046.1 L1576.0,1057.9 L1577.0,1067.4 L1578.1,1073.7 L1579.2,1076.0 L1580.2,1074.4 L1581.2,1069.3 L1582.2,1061.8 L1583.2,1052.6 L1584.2,1042.6 L1585.2,1032.5 L1586.2,1022.6 L1587.2,1011.9 L1588.3,999.8 L1589.3,986.8 L1590.3,973.6 L1591.4,961.2 L1592.4,950.4 L1593.5,942.2 L1594.5,937.0 L1595.5,933.8 L1596.6,931.6 L1597.7,929.7 L1598.7,928.2 L1599.8,926.8 L1600.8,925.4 L1601.9,924.0 L1602.9,922.3 L1604.0,920.5 L1605.0,918.6 L1606.1,916.6 L1607.2,914.6 L1608.2,912.5 L1609.3,910.5 L1610.4,908.5 L1611.5,906.6 L1612.5,904.7 L1613.6,903.0 L1614.7,901.5 L1615.7,900.1 L1616.8,898.8 L1617.8,897.8 L1618.9,896.8 L1619.9,895.8 L1620.9,894.9 L1621.9,894.1 L1623.0,893.2 L1624.0,892.4 L1625.0,891.6 L1626.0,890.9 L1627.1,890.2 L1628.1,889.5 L1629.1,888.9 L1630.1,888.2 L1631.2,887.6 L1632.2,887.0 L1633.2,886.5 L1634.2,885.9 L1635.3,885.3 L1636.3,884.8 L1637.3,884.2 L1638.4,883.6 L1639.5,883.0 L1640.5,882.5 L1641.5,882.0 L1642.6,881.6 L1643.7,881.3 L1644.7,881.2 L1645.8,881.3 L1646.8,881.5 L1647.9,881.7 L1649.0,882.1 L1650.0,882.5 L1651.1,882.9 L1652.2,883.4 L1653.3,883.9 L1654.3,884.3 L1655.4,884.7 L1656.5,885.1 L1657.5,885.4 L1658.6,885.7 L1659.6,885.9 L1660.6,886.1 L1661.7,886.2 L1662.7,886.4 L1663.7,886.6 L1664.7,886.7 L1665.7,886.8 L1666.7,886.9 L1667.8,887.0 L1668.8,887.1 L1669.8,887.1 L1670.8,887.0 L1671.8,886.8 L1672.8,886.5 L1673.8,886.1 L1674.8,885.7 L1675.9,885.2 L1676.9,884.7 L1677.9,884.2 L1678.9,883.7 L1679.9,883.3 L1680.9,882.9 L1681.9,882.5 L1683.0,882.1 L1684.0,881.7 L1685.1,881.3 L1686.1,880.9 L1687.2,880.5 L1688.2,880.1 L1689.2,879.7 L1690.3,879.3 L1691.3,879.0 L1692.4,878.7 L1693.4,878.4 L1694.5,878.2 L1695.5,878.1 L1696.6,878.0 L1697.6,877.9 L1698.6,878.0 L1699.6,878.1 L1700.6,878.4 L1701.6,878.7 L1702.6,879.1 L1703.6,879.5 L1704.6,880.0 L1705.6,880.4 L1706.6,880.8 L1707.6,881.2 L1708.6,881.5 L1709.6,881.8 L1710.6,881.9 L1711.6,882.0 L1712.6,881.8 L1713.6,881.4 L1714.6,880.9 L1715.6,880.2 L1716.6,879.4 L1717.7,878.5 L1718.7,877.7 L1719.7,876.9 L1720.7,876.2 L1721.7,875.6 L1722.7,875.1 L1723.8,874.8 L1724.8,874.4 L1725.9,874.1 L1727.0,873.8 L1728.0,873.6 L1729.1,873.3 L1730.2,873.1 L1731.3,872.8 L1732.3,872.7 L1733.4,872.5 L1734.5,872.4 L1735.5,872.3 L1736.6,872.4 L1737.7,872.7 L1738.8,873.3 L1740.0,874.1 L1741.1,874.7 L1742.2,874.9 L1743.3,874.5 L1744.4,873.6 L1745.6,872.4 L1746.7,871.5 L1747.8,871.0 L1748.8,870.9 L1749.9,871.0 L1750.9,871.1 L1751.9,871.3 L1752.9,871.5 L1754.0,871.7 L1755.0,872.0 L1756.0,872.3 L1757.0,872.7 L1758.1,873.1 L1759.1,873.5 L1760.1,873.9 L1761.1,874.4 L1762.2,874.9 L1763.2,875.5 L1764.2,876.1 L1765.2,876.6 L1766.3,877.3 L1767.3,877.9 L1768.3,878.8 L1769.3,879.9 L1770.3,881.3 L1771.3,882.9 L1772.3,884.7 L1773.4,886.7 L1774.4,888.8 L1775.4,890.9 L1776.4,893.1 L1777.4,895.3 L1778.4,897.4 L1779.4,899.6 L1780.4,902.0 L1781.5,904.5 L1782.5,907.1 L1783.5,909.7 L1784.5,912.4 L1785.5,915.1 L1786.5,917.8 L1787.6,920.4 L1788.6,922.8 L1789.6,925.2 L1790.6,927.3 L1791.7,929.3 L1792.7,931.2 L1793.8,933.1 L1794.8,935.0 L1795.8,937.1 L1796.9,939.4 L1797.9,942.0 L1799.0,945.0 L1800.0,948.4 L1801.0,952.2 L1802.1,956.3 L1803.2,960.7 L1804.2,965.4 L1805.2,970.3 L1806.3,975.5 L1807.3,981.0 L1808.4,987.0 L1809.5,993.4 L1810.5,1000.2 L1811.5,1007.4 L1812.6,1015.0 L1813.7,1023.0 L1814.7,1031.7 L1815.8,1042.6 L1816.9,1055.9 L1818.0,1070.4 L1819.2,1084.4 L1820.3,1096.3 L1821.4,1104.5 L1822.5,1107.4 L1823.5,1104.1 L1824.5,1095.2 L1825.5,1082.8 L1826.6,1069.1 L1827.6,1056.2 L1828.6,1045.6 L1829.6,1036.9 L1830.6,1028.8 L1831.6,1020.9 L1832.6,1013.2 L1833.6,1005.9 L1834.7,999.0 L1835.7,992.8 L1836.7,987.2 L1837.7,982.4 L1838.7,978.5 L1839.7,975.6 L1840.7,973.3 L1841.7,971.3 L1842.7,969.6 L1843.7,968.1 L1844.7,966.7 L1845.7,965.4 L1846.7,964.3 L1847.7,963.2 L1848.7,962.1 L1849.7,961.0 L1850.7,959.9 L1851.7,958.6 L1852.7,957.3 L1853.7,955.8 L1854.7,954.1 L1855.8,952.3 L1856.8,950.3 L1857.8,948.4 L1858.9,946.5 L1859.9,944.7 L1861.0,943.2 L1862.0,942.0 L1863.1,941.0 L1864.2,940.2 L1865.3,939.6 L1866.4,939.0 L1867.4,938.4 L1868.5,937.8 L1869.6,937.1 L1870.7,936.1 L1871.8,934.6 L1873.0,931.8 L1874.1,927.4 L1875.2,922.0 L1876.4,916.5 L1877.5,911.9 L1878.7,908.9 L1879.8,907.1 L1880.9,905.9 L1882.1,904.9 L1883.2,903.9 L1884.3,903.2" stroke="#111" stroke-width="2" fill="none" stroke-linejoin="round"/>
<text x="1136.3" y="947.8" font-size="32.5" font-family="'Liberation Serif', 'Times New Roman', serif" font-weight="bold" text-anchor="start" fill="#111" textLength="46.6" lengthAdjust="spacingAndGlyphs" letter-spacing="4">Fb</text>
<text x="0.0" y="0.0" font-size="25.5" font-family="'Liberation Serif', 'Times New Roman', serif" font-weight="bold" text-anchor="middle" fill="#111" textLength="259.0" lengthAdjust="spacingAndGlyphs" transform="translate(944.5,1114.5) rotate(-90)">Transmittance [%}</text>
<text x="0.0" y="0.0" font-size="18.0" font-family="'Liberation Sans', Arial, sans-serif" font-weight="bold" text-anchor="middle" fill="#222" textLength="82.9" lengthAdjust="spacingAndGlyphs" transform="translate(1165.7,1316.8) rotate(-90)">3,353,77</text>
<text x="0.0" y="0.0" font-size="18.0" font-family="'Liberation Sans', Arial, sans-serif" font-weight="bold" text-anchor="middle" fill="#222" textLength="82.8" lengthAdjust="spacingAndGlyphs" transform="translate(1450.0,1315.4) rotate(-90)">2,134,47</text>
<text x="0.0" y="0.0" font-size="18.0" font-family="'Liberation Sans', Arial, sans-serif" font-weight="bold" text-anchor="middle" fill="#222" textLength="69.5" lengthAdjust="spacingAndGlyphs" transform="translate(1590.7,1320.5) rotate(-90)">1,38,91</text>
<text x="0.0" y="0.0" font-size="18.0" font-family="'Liberation Sans', Arial, sans-serif" font-weight="bold" text-anchor="middle" fill="#222" textLength="64.6" lengthAdjust="spacingAndGlyphs" transform="translate(1839.0,1319.6) rotate(-90)">638,90</text>
<text x="1296.5" y="1438.5" font-size="29.0" font-family="'Liberation Serif', 'Times New Roman', serif" font-weight="bold" text-anchor="start" fill="#111" textLength="235.0" lengthAdjust="spacingAndGlyphs" stroke="#111" stroke-width="0.7">Wavenumber cm −1</text>
<path d="M892.5,916 Q893,910.5 896.5,909.5" stroke="#333" stroke-width="1.3" fill="none"/>
<path d="M400.6,1378H431 M515.9,1378H546.2" stroke="#bbb" stroke-width="1.2" stroke-dasharray="5,3"/>
</svg>
</body></html>
